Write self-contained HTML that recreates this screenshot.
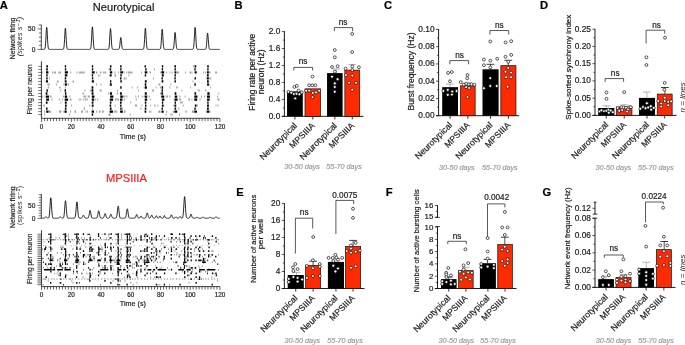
<!DOCTYPE html>
<html><head><meta charset="utf-8"><style>
html,body{margin:0;padding:0;background:#fff;width:685px;height:345px;overflow:hidden}
svg{display:block;filter:blur(0.25px)}
text{font-family:"Liberation Sans", sans-serif}
</style></head><body>
<svg xmlns="http://www.w3.org/2000/svg" width="685" height="345" viewBox="0 0 685 345">
<rect width="685" height="345" fill="#fff"/>
<g fill="#1c1c1c">
<text x="-0.3" y="8.6" font-size="11.2" font-weight="bold" fill="#000" stroke="#000" stroke-width="0.2">A</text>
<text x="234.6" y="8.6" font-size="11.2" font-weight="bold" fill="#000" stroke="#000" stroke-width="0.2">B</text>
<text x="384" y="8.6" font-size="11.2" font-weight="bold" fill="#000" stroke="#000" stroke-width="0.2">C</text>
<text x="540.1" y="8.6" font-size="11.2" font-weight="bold" fill="#000" stroke="#000" stroke-width="0.2">D</text>
<text x="236.3" y="196" font-size="11.2" font-weight="bold" fill="#000" stroke="#000" stroke-width="0.2">E</text>
<text x="385.8" y="196" font-size="11.2" font-weight="bold" fill="#000" stroke="#000" stroke-width="0.2">F</text>
<text x="542.4" y="196" font-size="11.2" font-weight="bold" fill="#000" stroke="#000" stroke-width="0.2">G</text>
<text x="92.8" y="11.1" font-size="11.1" fill="#1a1a1a" stroke="#1a1a1a" stroke-width="0.2">Neurotypical</text>
<text x="105.9" y="181.9" font-size="11.2" fill="#ff1a1a" stroke="#ff1a1a" stroke-width="0.2">MPSIIIA</text>
<line x1="41.3" y1="24.7" x2="41.3" y2="49.6" stroke="#111" stroke-width="0.8"/>
<path d="M37.5 49.4h3.8M38.7 45.31h2.6M38.7 41.22h2.6M38.7 37.13h2.6M38.7 33.04h2.6M37.5 28.95h3.8M38.7 24.86h2.6" stroke="#222" stroke-width="0.6" fill="none"/>
<text x="35.4" y="31.1" font-size="6.6" text-anchor="end" stroke="#1c1c1c" stroke-width="0.18">50</text>
<text x="35.4" y="51.9" font-size="6.6" text-anchor="end" stroke="#1c1c1c" stroke-width="0.18">0</text>
<path d="M41.3 49.4 L41.55 49.4 L41.8 49.4 L42.05 49.4 L42.3 49.4 L42.55 49.4 L42.8 49.4 L43.05 49.4 L43.3 49.4 L43.55 49.4 L43.8 49.4 L44.05 49.39 L44.3 49.36 L44.55 49.25 L44.8 48.95 L45.05 48.22 L45.3 46.71 L45.55 44.04 L45.8 40.07 L46.05 35.21 L46.3 30.56 L46.55 27.54 L46.8 27.24 L47.05 29.78 L47.3 34.22 L47.55 39.14 L47.8 43.35 L48.05 46.28 L48.3 47.99 L48.55 48.85 L48.8 49.21 L49.05 49.34 L49.3 49.39 L49.55 49.4 L49.8 49.4 L50.05 49.4 L50.3 49.4 L50.55 49.4 L50.8 49.4 L51.05 49.4 L51.3 49.4 L51.55 49.4 L51.8 49.4 L52.05 49.4 L52.3 49.4 L52.55 49.4 L52.8 49.4 L53.05 49.4 L53.3 49.4 L53.55 49.4 L53.8 49.4 L54.05 49.4 L54.3 49.4 L54.55 49.4 L54.8 49.4 L55.05 49.4 L55.3 49.4 L55.55 49.4 L55.8 49.4 L56.05 49.4 L56.3 49.4 L56.55 49.4 L56.8 49.4 L57.05 49.4 L57.3 49.4 L57.55 49.4 L57.8 49.4 L58.05 49.4 L58.3 49.4 L58.55 49.4 L58.8 49.4 L59.05 49.4 L59.3 49.4 L59.55 49.4 L59.8 49.4 L60.05 49.4 L60.3 49.4 L60.55 49.4 L60.8 49.4 L61.05 49.4 L61.3 49.4 L61.55 49.4 L61.8 49.4 L62.05 49.4 L62.3 49.4 L62.55 49.4 L62.8 49.39 L63.05 49.35 L63.3 49.22 L63.55 48.87 L63.8 48.06 L64.05 46.42 L64.3 43.62 L64.55 39.6 L64.8 34.9 L65.05 30.65 L65.3 28.23 L65.55 28.51 L65.8 31.4 L66.05 35.85 L66.3 40.49 L66.55 44.28 L66.8 46.83 L67.05 48.27 L67.3 48.97 L67.55 49.26 L67.8 49.36 L68.05 49.39 L68.3 49.4 L68.55 49.4 L68.8 49.4 L69.05 49.4 L69.3 49.4 L69.55 49.4 L69.8 49.4 L70.05 49.4 L70.3 49.4 L70.55 49.4 L70.8 49.4 L71.05 49.4 L71.3 49.4 L71.55 49.4 L71.8 49.4 L72.05 49.4 L72.3 49.4 L72.55 49.4 L72.8 49.4 L73.05 49.4 L73.3 49.4 L73.55 49.4 L73.8 49.4 L74.05 49.4 L74.3 49.4 L74.55 49.4 L74.8 49.4 L75.05 49.4 L75.3 49.4 L75.55 49.4 L75.8 49.4 L76.05 49.4 L76.3 49.4 L76.55 49.4 L76.8 49.4 L77.05 49.4 L77.3 49.4 L77.55 49.4 L77.8 49.4 L78.05 49.4 L78.3 49.4 L78.55 49.4 L78.8 49.4 L79.05 49.4 L79.3 49.4 L79.55 49.4 L79.8 49.4 L80.05 49.4 L80.3 49.4 L80.55 49.4 L80.8 49.4 L81.05 49.4 L81.3 49.4 L81.55 49.4 L81.8 49.4 L82.05 49.4 L82.3 49.4 L82.55 49.4 L82.8 49.4 L83.05 49.4 L83.3 49.4 L83.55 49.4 L83.8 49.4 L84.05 49.4 L84.3 49.4 L84.55 49.4 L84.8 49.4 L85.05 49.4 L85.3 49.4 L85.55 49.4 L85.8 49.4 L86.05 49.4 L86.3 49.4 L86.55 49.4 L86.8 49.4 L87.05 49.4 L87.3 49.4 L87.55 49.4 L87.8 49.4 L88.05 49.4 L88.3 49.4 L88.55 49.4 L88.8 49.4 L89.05 49.4 L89.3 49.4 L89.55 49.4 L89.8 49.38 L90.05 49.34 L90.3 49.21 L90.55 48.84 L90.8 47.97 L91.05 46.22 L91.3 43.24 L91.55 38.96 L91.8 33.95 L92.05 29.43 L92.3 26.85 L92.55 27.15 L92.8 30.22 L93.05 34.96 L93.3 39.9 L93.55 43.94 L93.8 46.66 L94.05 48.2 L94.3 48.94 L94.55 49.25 L94.8 49.36 L95.05 49.39 L95.3 49.4 L95.55 49.4 L95.8 49.4 L96.05 49.4 L96.3 49.4 L96.55 49.4 L96.8 49.4 L97.05 49.4 L97.3 49.4 L97.55 49.4 L97.8 49.4 L98.05 49.4 L98.3 49.4 L98.55 49.4 L98.8 49.4 L99.05 49.4 L99.3 49.4 L99.55 49.4 L99.8 49.4 L100.05 49.4 L100.3 49.4 L100.55 49.4 L100.8 49.4 L101.05 49.4 L101.3 49.4 L101.55 49.4 L101.8 49.4 L102.05 49.4 L102.3 49.4 L102.55 49.4 L102.8 49.4 L103.05 49.4 L103.3 49.4 L103.55 49.4 L103.8 49.4 L104.05 49.4 L104.3 49.4 L104.55 49.4 L104.8 49.4 L105.05 49.4 L105.3 49.4 L105.55 49.4 L105.8 49.4 L106.05 49.4 L106.3 49.4 L106.55 49.4 L106.8 49.4 L107.05 49.4 L107.3 49.4 L107.55 49.4 L107.8 49.39 L108.05 49.37 L108.3 49.29 L108.55 49.06 L108.8 48.48 L109.05 47.25 L109.3 45 L109.55 41.52 L109.8 37.1 L110.05 32.61 L110.3 29.38 L110.55 28.56 L110.8 30.44 L111.05 34.33 L111.3 38.94 L111.55 43.06 L111.8 46.04 L112.05 47.84 L112.3 48.77 L112.55 49.18 L112.8 49.33 L113.05 49.38 L113.3 49.4 L113.55 49.4 L113.8 49.4 L114.05 49.4 L114.3 49.4 L114.55 49.4 L114.8 49.4 L115.05 49.4 L115.3 49.4 L115.55 49.4 L115.8 49.4 L116.05 49.4 L116.3 49.4 L116.55 49.4 L116.8 49.4 L117.05 49.4 L117.3 49.4 L117.55 49.4 L117.8 49.4 L118.05 49.4 L118.3 49.39 L118.55 49.35 L118.8 49.24 L119.05 48.97 L119.3 48.36 L119.55 47.2 L119.8 45.36 L120.05 42.92 L120.3 40.32 L120.55 38.28 L120.8 37.5 L121.05 38.28 L121.3 40.32 L121.55 42.92 L121.8 45.36 L122.05 47.2 L122.3 48.36 L122.55 48.97 L122.8 49.24 L123.05 49.35 L123.3 49.39 L123.55 49.4 L123.8 49.4 L124.05 49.4 L124.3 49.4 L124.55 49.4 L124.8 49.4 L125.05 49.4 L125.3 49.4 L125.55 49.4 L125.8 49.4 L126.05 49.4 L126.3 49.4 L126.55 49.4 L126.8 49.4 L127.05 49.4 L127.3 49.4 L127.55 49.4 L127.8 49.4 L128.05 49.4 L128.3 49.4 L128.55 49.4 L128.8 49.4 L129.05 49.4 L129.3 49.4 L129.55 49.4 L129.8 49.4 L130.05 49.4 L130.3 49.4 L130.55 49.4 L130.8 49.4 L131.05 49.4 L131.3 49.4 L131.55 49.4 L131.8 49.4 L132.05 49.4 L132.3 49.4 L132.55 49.4 L132.8 49.4 L133.05 49.4 L133.3 49.4 L133.55 49.4 L133.8 49.4 L134.05 49.4 L134.3 49.4 L134.55 49.4 L134.8 49.4 L135.05 49.4 L135.3 49.4 L135.55 49.4 L135.8 49.4 L136.05 49.4 L136.3 49.4 L136.55 49.4 L136.8 49.4 L137.05 49.4 L137.3 49.4 L137.55 49.4 L137.8 49.4 L138.05 49.4 L138.3 49.4 L138.55 49.4 L138.8 49.4 L139.05 49.4 L139.3 49.4 L139.55 49.4 L139.8 49.4 L140.05 49.4 L140.3 49.4 L140.55 49.4 L140.8 49.4 L141.05 49.4 L141.3 49.4 L141.55 49.4 L141.8 49.4 L142.05 49.4 L142.3 49.4 L142.55 49.4 L142.8 49.39 L143.05 49.35 L143.3 49.22 L143.55 48.87 L143.8 48.06 L144.05 46.42 L144.3 43.62 L144.55 39.6 L144.8 34.9 L145.05 30.65 L145.3 28.23 L145.55 28.51 L145.8 31.4 L146.05 35.85 L146.3 40.49 L146.55 44.28 L146.8 46.83 L147.05 48.27 L147.3 48.97 L147.55 49.26 L147.8 49.36 L148.05 49.39 L148.3 49.4 L148.55 49.4 L148.8 49.4 L149.05 49.4 L149.3 49.4 L149.55 49.4 L149.8 49.4 L150.05 49.4 L150.3 49.4 L150.55 49.4 L150.8 49.4 L151.05 49.4 L151.3 49.4 L151.55 49.4 L151.8 49.4 L152.05 49.4 L152.3 49.4 L152.55 49.4 L152.8 49.4 L153.05 49.4 L153.3 49.4 L153.55 49.4 L153.8 49.4 L154.05 49.4 L154.3 49.4 L154.55 49.4 L154.8 49.4 L155.05 49.4 L155.3 49.4 L155.55 49.4 L155.8 49.4 L156.05 49.4 L156.3 49.4 L156.55 49.4 L156.8 49.4 L157.05 49.4 L157.3 49.4 L157.55 49.4 L157.8 49.4 L158.05 49.4 L158.3 49.4 L158.55 49.4 L158.8 49.4 L159.05 49.4 L159.3 49.4 L159.55 49.39 L159.8 49.36 L160.05 49.26 L160.3 48.99 L160.55 48.33 L160.8 46.95 L161.05 44.52 L161.3 40.9 L161.55 36.48 L161.8 32.24 L162.05 29.49 L162.3 29.22 L162.55 31.53 L162.8 35.58 L163.05 40.06 L163.3 43.89 L163.55 46.56 L163.8 48.12 L164.05 48.9 L164.3 49.23 L164.55 49.35 L164.8 49.39 L165.05 49.4 L165.3 49.4 L165.55 49.4 L165.8 49.4 L166.05 49.4 L166.3 49.4 L166.55 49.4 L166.8 49.4 L167.05 49.4 L167.3 49.4 L167.55 49.4 L167.8 49.4 L168.05 49.4 L168.3 49.4 L168.55 49.4 L168.8 49.4 L169.05 49.4 L169.3 49.4 L169.55 49.4 L169.8 49.4 L170.05 49.4 L170.3 49.4 L170.55 49.4 L170.8 49.4 L171.05 49.4 L171.3 49.4 L171.55 49.4 L171.8 49.4 L172.05 49.4 L172.3 49.4 L172.55 49.38 L172.8 49.34 L173.05 49.22 L173.3 48.89 L173.55 48.13 L173.8 46.67 L174.05 44.24 L174.3 40.89 L174.55 37.14 L174.8 33.98 L175.05 32.45 L175.3 33.12 L175.55 35.74 L175.8 39.39 L176.05 42.99 L176.3 45.82 L176.55 47.65 L176.8 48.65 L177.05 49.12 L177.3 49.31 L177.55 49.37 L177.8 49.39 L178.05 49.4 L178.3 49.4 L178.55 49.4 L178.8 49.4 L179.05 49.4 L179.3 49.4 L179.55 49.4 L179.8 49.4 L180.05 49.4 L180.3 49.4 L180.55 49.4 L180.8 49.4 L181.05 49.4 L181.3 49.4 L181.55 49.4 L181.8 49.4 L182.05 49.4 L182.3 49.4 L182.55 49.4 L182.8 49.4 L183.05 49.4 L183.3 49.4 L183.55 49.4 L183.8 49.4 L184.05 49.4 L184.3 49.4 L184.55 49.4 L184.8 49.4 L185.05 49.4 L185.3 49.4 L185.55 49.4 L185.8 49.4 L186.05 49.4 L186.3 49.4 L186.55 49.4 L186.8 49.4 L187.05 49.4 L187.3 49.4 L187.55 49.4 L187.8 49.4 L188.05 49.4 L188.3 49.4 L188.55 49.4 L188.8 49.4 L189.05 49.4 L189.3 49.4 L189.55 49.4 L189.8 49.4 L190.05 49.4 L190.3 49.4 L190.55 49.4 L190.8 49.4 L191.05 49.4 L191.3 49.4 L191.55 49.4 L191.8 49.4 L192.05 49.4 L192.3 49.4 L192.55 49.38 L192.8 49.33 L193.05 49.17 L193.3 48.73 L193.55 47.76 L193.8 45.85 L194.05 42.69 L194.3 38.34 L194.55 33.47 L194.8 29.35 L195.05 27.36 L195.3 28.24 L195.55 31.65 L195.8 36.39 L196.05 41.07 L196.3 44.74 L196.55 47.12 L196.8 48.43 L197.05 49.04 L197.3 49.28 L197.55 49.37 L197.8 49.39 L198.05 49.4 L198.3 49.4 L198.55 49.4 L198.8 49.4 L199.05 49.4 L199.3 49.4 L199.55 49.4 L199.8 49.4 L200.05 49.4 L200.3 49.4 L200.55 49.4 L200.8 49.4 L201.05 49.4 L201.3 49.4 L201.55 49.4 L201.8 49.4 L202.05 49.4 L202.3 49.4 L202.55 49.4 L202.8 49.4 L203.05 49.4 L203.3 49.4 L203.55 49.4 L203.8 49.4 L204.05 49.4 L204.3 49.4 L204.55 49.4 L204.8 49.4 L205.05 49.39 L205.3 49.35 L205.55 49.23 L205.8 48.91 L206.05 48.19 L206.3 46.78 L206.55 44.45 L206.8 41.24 L207.05 37.65 L207.3 34.61 L207.55 33.14 L207.8 33.79 L208.05 36.31 L208.3 39.8 L208.55 43.26 L208.8 45.96 L209.05 47.72 L209.3 48.68 L209.55 49.13 L209.8 49.31 L210.05 49.38 L210.3 49.39 L210.55 49.4 L210.8 49.4 L211.05 49.4 L211.3 49.4 L211.55 49.4 L211.8 49.4 L212.05 49.4 L212.3 49.4 L212.55 49.4 L212.8 49.4 L213.05 49.4 L213.3 49.4 L213.55 49.4 L213.8 49.4 L214.05 49.4 L214.3 49.4 L214.55 49.4 L214.8 49.4 L215.05 49.4 L215.3 49.4 L215.55 49.4 L215.8 49.4 L216.05 49.4 L216.3 49.4 L216.55 49.4 L216.8 49.4 L217.05 49.4 L217.3 49.4 L217.55 49.4 L217.8 49.4 L218.05 49.4 L218.3 49.4 L218.55 49.4 L218.8 49.4 L219.05 49.4 L219.3 49.4 L219.55 49.4 L219.8 49.4" stroke="#000" stroke-width="0.85" fill="none"/>
<text x="15" y="38.5" font-size="6.8" text-anchor="middle" stroke="#1c1c1c" stroke-width="0.18" transform="rotate(-90 15 38.5)">Network firing</text>
<text x="22.4" y="36.6" font-size="7" text-anchor="middle" font-style="italic" textLength="39.5" transform="rotate(-90 22.4 36.6)">(spikes s<tspan font-size="5.6" dy="-2.6">−1</tspan><tspan dy="2.6">)</tspan></text>
<path d="M192.95 65.35h0.9v2.1h-0.9zM108.63 68.36h0.9v2.1h-0.9zM153.89 68.36h0.9v2.1h-0.9zM70.2 71.38h1v2.1h-1zM96.4 71.38h1v2.1h-1zM114.53 71.38h1v2.1h-1zM126.33 71.38h1v2.1h-1zM149.54 71.38h1v2.1h-1zM166.16 71.38h1v2.1h-1zM177.9 71.38h1v2.1h-1zM41.78 71.38h0.9v2.1h-0.9zM46.78 71.38h0.9v2.1h-0.9zM52.06 71.38h0.9v2.1h-0.9zM53.74 71.38h1.66v2.1h-1.66zM53.95 71.38h1.15v2.1h-1.15zM54.54 71.38h0.9v2.1h-0.9zM54.72 71.38h1.08v2.1h-1.08zM55.07 71.38h0.9v2.1h-0.9zM55.16 71.38h0.9v2.1h-0.9zM58.3 71.38h1.2v2.1h-1.2zM59.71 71.38h0.9v2.1h-0.9zM60.14 71.38h0.9v2.1h-0.9zM76.57 71.38h0.9v2.1h-0.9zM78.76 71.38h1.02v2.1h-1.02zM80.14 71.38h1.89v2.1h-1.89zM80.72 71.38h2.04v2.1h-2.04zM83.2 71.38h1.55v2.1h-1.55zM83.3 71.38h0.9v2.1h-0.9zM95.97 71.38h0.9v2.1h-0.9zM99.91 71.38h1.34v2.1h-1.34zM100.51 71.38h0.9v2.1h-0.9zM103.02 71.38h0.9v2.1h-0.9zM104.34 71.38h1.87v2.1h-1.87zM118.19 71.38h0.9v2.1h-0.9zM123.61 71.38h0.9v2.1h-0.9zM128.06 71.38h1.52v2.1h-1.52zM129.51 71.38h0.93v2.1h-0.93zM130.59 71.38h1.73v2.1h-1.73zM140.94 71.38h0.9v2.1h-0.9zM150.07 71.38h0.9v2.1h-0.9zM160.31 71.38h0.9v2.1h-0.9zM161.13 71.38h1.14v2.1h-1.14zM161.89 71.38h0.9v2.1h-0.9zM169.5 71.38h0.9v2.1h-0.9zM171.66 71.38h0.9v2.1h-0.9zM176.96 71.38h1.69v2.1h-1.69zM184.91 71.38h0.9v2.1h-0.9zM189.49 71.38h0.9v2.1h-0.9zM190.14 71.38h0.9v2.1h-0.9zM191.47 71.38h0.9v2.1h-0.9zM203.24 71.38h0.9v2.1h-0.9zM204.93 71.38h0.9v2.1h-0.9zM209.19 71.38h1.05v2.1h-1.05zM209.73 71.38h0.9v2.1h-0.9zM215.15 71.38h1.89v2.1h-1.89zM97.98 74.39h0.9v2.1h-0.9zM99.38 74.39h0.9v2.1h-0.9zM114.41 74.39h1.86v2.1h-1.86zM128.46 74.39h0.9v2.1h-0.9zM49.04 77.4h0.9v2.1h-0.9zM120.1 77.4h0.9v2.1h-0.9zM123.75 77.4h1.43v2.1h-1.43zM125.62 77.4h0.99v2.1h-0.99zM153.03 77.4h0.9v2.1h-0.9zM209.33 77.4h1.76v2.1h-1.76zM56.89 80.42h1.83v2.1h-1.83zM72.5 80.42h1.41v2.1h-1.41zM192.55 80.42h0.9v2.1h-0.9zM207.37 80.42h2v2.1h-2zM47.38 83.43h1.09v2.1h-1.09zM48.48 83.43h1.27v2.1h-1.27zM56.2 83.43h0.9v2.1h-0.9zM63.47 83.43h0.9v2.1h-0.9zM67.63 83.43h0.9v2.1h-0.9zM68.02 83.43h0.92v2.1h-0.92zM96.05 83.43h0.9v2.1h-0.9zM100.51 83.43h0.9v2.1h-0.9zM158.41 83.43h1.88v2.1h-1.88zM170.43 83.43h0.9v2.1h-0.9zM208.62 83.43h0.9v2.1h-0.9zM47.75 86.44h1.25v2.1h-1.25zM59.18 86.44h1.43v2.1h-1.43zM64.85 86.44h0.9v2.1h-0.9zM131.68 86.44h0.9v2.1h-0.9zM136.88 86.44h0.9v2.1h-0.9zM143.76 86.44h0.9v2.1h-0.9zM143.78 86.44h0.9v2.1h-0.9zM155.74 86.44h0.9v2.1h-0.9zM159.9 86.44h0.9v2.1h-0.9zM160 86.44h1.01v2.1h-1.01zM169.47 86.44h0.93v2.1h-0.93zM176.21 86.44h1.6v2.1h-1.6zM190.2 86.44h0.9v2.1h-0.9zM210.1 86.44h0.9v2.1h-0.9zM60.22 89.45h0.9v2.1h-0.9zM84.6 89.45h0.9v2.1h-0.9zM90.14 89.45h1.06v2.1h-1.06zM99.64 89.45h1.9v2.1h-1.9zM117 89.45h0.9v2.1h-0.9zM137.89 89.45h0.9v2.1h-0.9zM152.15 89.45h1.86v2.1h-1.86zM181.43 89.45h0.9v2.1h-0.9zM197.69 89.45h0.9v2.1h-0.9zM199.14 89.45h0.9v2.1h-0.9zM205.31 89.45h1.22v2.1h-1.22zM82.5 92.47h1.45v2.1h-1.45zM107.97 92.47h0.9v2.1h-0.9zM116.84 92.47h1.15v2.1h-1.15zM160.1 92.47h1.6v2.1h-1.6zM162.37 92.47h0.9v2.1h-0.9zM207.72 92.47h1.88v2.1h-1.88zM218.28 92.47h0.9v2.1h-0.9zM50.47 95.48h1v2.1h-1zM69.3 95.48h1v2.1h-1zM126.34 95.48h1v2.1h-1zM148.85 95.48h1v2.1h-1zM179.48 95.48h1v2.1h-1zM41.85 95.48h0.9v2.1h-0.9zM44.82 95.48h0.9v2.1h-0.9zM49.94 95.48h0.96v2.1h-0.96zM62.89 95.48h1.47v2.1h-1.47zM64.98 95.48h1.79v2.1h-1.79zM83.51 95.48h1.69v2.1h-1.69zM85.28 95.48h0.9v2.1h-0.9zM87.77 95.48h1.09v2.1h-1.09zM88.92 95.48h0.9v2.1h-0.9zM92.32 95.48h1.99v2.1h-1.99zM120.3 95.48h0.9v2.1h-0.9zM121.04 95.48h1.01v2.1h-1.01zM123.11 95.48h1.19v2.1h-1.19zM124.59 95.48h0.9v2.1h-0.9zM135.4 95.48h0.9v2.1h-0.9zM138.04 95.48h0.9v2.1h-0.9zM141.72 95.48h0.9v2.1h-0.9zM143.76 95.48h1.23v2.1h-1.23zM160.76 95.48h1.5v2.1h-1.5zM165.68 95.48h0.9v2.1h-0.9zM166.89 95.48h1.2v2.1h-1.2zM169.42 95.48h0.9v2.1h-0.9zM184.66 95.48h0.9v2.1h-0.9zM194.88 95.48h0.94v2.1h-0.94zM201 95.48h0.9v2.1h-0.9zM204.17 95.48h0.9v2.1h-0.9zM204.17 95.48h0.9v2.1h-0.9zM217.13 95.48h0.9v2.1h-0.9zM51.52 98.49h1v2.1h-1zM97.23 98.49h1v2.1h-1zM114.86 98.49h1v2.1h-1zM124.06 98.49h1v2.1h-1zM149.88 98.49h1v2.1h-1zM179.52 98.49h1v2.1h-1zM199.58 98.49h1v2.1h-1zM59.11 98.49h0.94v2.1h-0.94zM61.9 98.49h0.9v2.1h-0.9zM69.64 98.49h1.86v2.1h-1.86zM78.72 98.49h0.9v2.1h-0.9zM80.27 98.49h0.9v2.1h-0.9zM82.79 98.49h0.9v2.1h-0.9zM84.57 98.49h1.81v2.1h-1.81zM86.93 98.49h0.9v2.1h-0.9zM91.55 98.49h1.17v2.1h-1.17zM95.2 98.49h0.9v2.1h-0.9zM115.26 98.49h1.37v2.1h-1.37zM116.88 98.49h0.9v2.1h-0.9zM117.91 98.49h0.97v2.1h-0.97zM121.29 98.49h0.9v2.1h-0.9zM135.81 98.49h0.9v2.1h-0.9zM176.36 98.49h0.9v2.1h-0.9zM179.06 98.49h2.02v2.1h-2.02zM188.32 98.49h1.7v2.1h-1.7zM191.53 98.49h0.9v2.1h-0.9zM194.26 98.49h0.9v2.1h-0.9zM196.47 98.49h0.9v2.1h-0.9zM217.49 98.49h2.06v2.1h-2.06zM60.45 101.51h0.9v2.1h-0.9zM130.24 101.51h0.9v2.1h-0.9zM180.02 101.51h0.9v2.1h-0.9zM181.23 101.51h1.47v2.1h-1.47zM43.23 104.52h1.5v2.1h-1.5zM66.21 104.52h0.9v2.1h-0.9zM71.16 104.52h0.9v2.1h-0.9zM89.15 104.52h0.9v2.1h-0.9zM114.75 104.52h0.9v2.1h-0.9zM135.03 104.52h1.91v2.1h-1.91zM141.49 104.52h0.9v2.1h-0.9zM150.16 104.52h0.9v2.1h-0.9zM154.28 104.52h1.19v2.1h-1.19zM157.37 104.52h0.9v2.1h-0.9zM173.41 104.52h0.9v2.1h-0.9zM182.78 104.52h0.9v2.1h-0.9zM195.92 104.52h1.87v2.1h-1.87zM215.6 104.52h0.9v2.1h-0.9zM217.6 104.52h0.9v2.1h-0.9zM83.73 107.53h1.27v2.1h-1.27zM92.18 107.53h0.9v2.1h-0.9zM121.68 107.53h1.02v2.1h-1.02zM140.36 107.53h0.9v2.1h-0.9zM178.23 107.53h1.1v2.1h-1.1zM69.93 110.55h1v2.1h-1zM116.21 110.55h1v2.1h-1zM124.25 110.55h1v2.1h-1zM149.03 110.55h1v2.1h-1zM166.22 110.55h1v2.1h-1zM43.88 110.55h0.9v2.1h-0.9zM48.38 110.55h0.9v2.1h-0.9zM49.19 110.55h0.9v2.1h-0.9zM50.35 110.55h0.9v2.1h-0.9zM59.05 110.55h0.9v2.1h-0.9zM59.99 110.55h1.38v2.1h-1.38zM63.38 110.55h0.9v2.1h-0.9zM63.99 110.55h1.77v2.1h-1.77zM74.55 110.55h1.57v2.1h-1.57zM81.13 110.55h1.91v2.1h-1.91zM81.71 110.55h0.9v2.1h-0.9zM85.42 110.55h0.9v2.1h-0.9zM87.12 110.55h0.9v2.1h-0.9zM91.18 110.55h0.9v2.1h-0.9zM96.17 110.55h0.9v2.1h-0.9zM98.85 110.55h1.64v2.1h-1.64zM101.97 110.55h1.82v2.1h-1.82zM109 110.55h0.9v2.1h-0.9zM109.92 110.55h0.9v2.1h-0.9zM110.44 110.55h1.42v2.1h-1.42zM110.89 110.55h0.9v2.1h-0.9zM114.2 110.55h1.66v2.1h-1.66zM114.6 110.55h0.9v2.1h-0.9zM121.58 110.55h0.9v2.1h-0.9zM121.84 110.55h0.9v2.1h-0.9zM124.05 110.55h0.9v2.1h-0.9zM124.73 110.55h0.9v2.1h-0.9zM150.51 110.55h0.9v2.1h-0.9zM158.34 110.55h2.08v2.1h-2.08zM161.49 110.55h0.9v2.1h-0.9zM172.99 110.55h1.85v2.1h-1.85zM185.38 110.55h1.32v2.1h-1.32zM191.93 110.55h1.98v2.1h-1.98zM193.42 110.55h0.9v2.1h-0.9zM194.14 110.55h0.9v2.1h-0.9zM205.87 110.55h1.22v2.1h-1.22zM209.14 110.55h0.9v2.1h-0.9zM209.32 110.55h1.09v2.1h-1.09zM44.34 113.56h0.9v2.1h-0.9zM68.94 113.56h0.9v2.1h-0.9zM108.51 113.56h2.09v2.1h-2.09zM129.84 113.56h0.9v2.1h-0.9zM165.66 113.56h0.9v2.1h-0.9zM170.48 113.56h0.9v2.1h-0.9zM171.71 113.56h0.9v2.1h-0.9zM178.95 113.56h0.9v2.1h-0.9z" fill="#a0a0a0"/>
<path d="M46.28 65.25h1.74v2.3h-1.74zM64.77 65.25h1.4v2.3h-1.4zM91.8 65.25h1.4v2.3h-1.4zM109.93 65.25h1.56v2.3h-1.56zM120.13 65.25h1.5v2.3h-1.5zM144.54 65.25h1.4v2.3h-1.4zM161.85 65.25h1.4v2.3h-1.4zM174.4 65.25h1.61v2.3h-1.61zM194.59 65.25h1.65v2.3h-1.65zM207.18 65.25h1.62v2.3h-1.62zM46.14 68.26h1.65v2.3h-1.65zM64.86 68.26h1.4v2.3h-1.4zM91.84 68.26h1.4v2.3h-1.4zM109.79 68.26h1.4v2.3h-1.4zM120.15 68.26h1.4v2.3h-1.4zM145.21 68.26h1.4v2.3h-1.4zM161.72 68.26h1.4v2.3h-1.4zM174.5 68.26h1.4v2.3h-1.4zM194.31 68.26h1.45v2.3h-1.45zM207.21 68.26h1.4v2.3h-1.4zM46.05 71.28h2.33v2.3h-2.33zM64.79 71.28h3.14v2.3h-3.14zM91.82 71.28h2.84v2.3h-2.84zM109.82 71.28h2.42v2.3h-2.42zM120.28 71.28h2.78v2.3h-2.78zM144.71 71.28h2.61v2.3h-2.61zM161.58 71.28h2.62v2.3h-2.62zM174.52 71.28h1.87v2.3h-1.87zM194.64 71.28h2.05v2.3h-2.05zM206.98 71.28h1.85v2.3h-1.85zM46.25 74.29h1.4v2.3h-1.4zM64.84 74.29h2.46v2.3h-2.46zM91.74 74.29h1.4v2.3h-1.4zM109.7 74.29h1.92v2.3h-1.92zM120.32 74.29h1.4v2.3h-1.4zM144.74 74.29h1.4v2.3h-1.4zM161.84 74.29h2v2.3h-2zM174.55 74.29h1.4v2.3h-1.4zM206.91 74.29h1.81v2.3h-1.81zM46.26 77.3h1.4v2.3h-1.4zM64.73 77.3h1.44v2.3h-1.44zM91.92 77.3h1.4v2.3h-1.4zM120.1 77.3h1.4v2.3h-1.4zM161.48 77.3h1.4v2.3h-1.4zM174.35 77.3h1.4v2.3h-1.4zM194.55 77.3h1.4v2.3h-1.4zM206.75 77.3h2.08v2.3h-2.08zM45.84 80.31h2.18v2.3h-2.18zM64.76 80.31h1.79v2.3h-1.79zM91.78 80.31h2.15v2.3h-2.15zM109.98 80.31h1.4v2.3h-1.4zM120.32 80.31h1.52v2.3h-1.52zM144.82 80.31h1.9v2.3h-1.9zM161.62 80.31h1.76v2.3h-1.76zM174.5 80.31h1.4v2.3h-1.4zM206.99 80.31h1.59v2.3h-1.59zM64.88 83.33h1.97v2.3h-1.97zM109.82 83.33h1.93v2.3h-1.93zM144.76 83.33h1.49v2.3h-1.49zM194.39 83.33h1.4v2.3h-1.4zM207.13 83.33h1.74v2.3h-1.74zM91.6 86.34h1.71v2.3h-1.71zM120.24 86.34h1.4v2.3h-1.4zM144.91 86.34h1.99v2.3h-1.99zM161.65 86.34h1.49v2.3h-1.49zM46.49 89.35h1.4v2.3h-1.4zM64.59 89.35h1.4v2.3h-1.4zM91.53 89.35h1.83v2.3h-1.83zM161.57 89.35h1.4v2.3h-1.4zM45.69 92.37h1.73v2.3h-1.73zM64.92 92.37h1.46v2.3h-1.46zM91.59 92.37h1.86v2.3h-1.86zM109.94 92.37h2v2.3h-2zM120.07 92.37h1.79v2.3h-1.79zM144.8 92.37h1.94v2.3h-1.94zM161.4 92.37h1.51v2.3h-1.51zM174.67 92.37h1.68v2.3h-1.68zM194.52 92.37h1.6v2.3h-1.6zM207.39 92.37h2.15v2.3h-2.15zM46 95.38h2.97v2.3h-2.97zM64.84 95.38h2.28v2.3h-2.28zM91.79 95.38h2.61v2.3h-2.61zM110.13 95.38h3.27v2.3h-3.27zM120.34 95.38h2.5v2.3h-2.5zM144.92 95.38h2.33v2.3h-2.33zM161.49 95.38h2.77v2.3h-2.77zM174.68 95.38h2.55v2.3h-2.55zM194.32 95.38h3.15v2.3h-3.15zM206.93 95.38h3.07v2.3h-3.07zM46.17 98.39h2.8v2.3h-2.8zM64.71 98.39h3.4v2.3h-3.4zM91.85 98.39h2.31v2.3h-2.31zM109.8 98.39h3.3v2.3h-3.3zM120.02 98.39h2.39v2.3h-2.39zM144.73 98.39h2.46v2.3h-2.46zM161.76 98.39h2.66v2.3h-2.66zM174.39 98.39h3.14v2.3h-3.14zM194.38 98.39h2.7v2.3h-2.7zM207.06 98.39h2.53v2.3h-2.53zM45.85 101.41h1.72v2.3h-1.72zM64.85 101.41h1.83v2.3h-1.83zM91.75 101.41h1.63v2.3h-1.63zM109.88 101.41h1.48v2.3h-1.48zM119.96 101.41h1.66v2.3h-1.66zM144.81 101.41h1.54v2.3h-1.54zM161.85 101.41h1.4v2.3h-1.4zM174.6 101.41h1.4v2.3h-1.4zM207.24 101.41h1.4v2.3h-1.4zM64.96 104.42h1.6v2.3h-1.6zM91.76 104.42h1.83v2.3h-1.83zM109.62 104.42h1.55v2.3h-1.55zM120.12 104.42h1.4v2.3h-1.4zM145 104.42h1.4v2.3h-1.4zM161.84 104.42h1.82v2.3h-1.82zM174.52 104.42h1.7v2.3h-1.7zM194.87 104.42h1.4v2.3h-1.4zM206.99 104.42h1.91v2.3h-1.91zM46.08 107.43h1.5v2.3h-1.5zM64.87 107.43h1.59v2.3h-1.59zM109.84 107.43h1.75v2.3h-1.75zM120.24 107.43h1.4v2.3h-1.4zM144.78 107.43h1.58v2.3h-1.58zM161.53 107.43h1.4v2.3h-1.4zM174.58 107.43h1.57v2.3h-1.57zM194.37 107.43h1.4v2.3h-1.4zM207.01 107.43h1.76v2.3h-1.76zM46.23 110.44h2.23v2.3h-2.23zM64.74 110.44h1.96v2.3h-1.96zM91.88 110.44h2.13v2.3h-2.13zM109.91 110.44h3.16v2.3h-3.16zM120.09 110.44h2.63v2.3h-2.63zM144.55 110.44h1.74v2.3h-1.74zM161.6 110.44h2.08v2.3h-2.08zM174.61 110.44h2.66v2.3h-2.66zM194.57 110.44h2.37v2.3h-2.37zM207.01 110.44h2.17v2.3h-2.17zM91.73 113.46h1.44v2.3h-1.44z" fill="#000"/>
<line x1="41.4" y1="61.3" x2="41.4" y2="118.3" stroke="#111" stroke-width="0.85"/>
<path d="M38.2 66.4h3.3M38.2 69.41h3.3M38.2 72.43h3.3M38.2 75.44h3.3M38.2 78.45h3.3M38.2 81.47h3.3M38.2 84.48h3.3M38.2 87.49h3.3M38.2 90.5h3.3M38.2 93.52h3.3M38.2 96.53h3.3M38.2 99.54h3.3M38.2 102.56h3.3M38.2 105.57h3.3M38.2 108.58h3.3M38.2 111.59h3.3M38.2 114.61h3.3" stroke="#222" stroke-width="0.6" fill="none"/>
<line x1="41.5" y1="118.3" x2="219.9" y2="118.3" stroke="#111" stroke-width="0.8"/>
<path d="M41.6 118.3v3.6M44.57 118.3v2.8M47.54 118.3v2.8M50.52 118.3v2.8M53.49 118.3v2.8M56.46 118.3v2.8M59.43 118.3v2.8M62.4 118.3v2.8M65.37 118.3v2.8M68.34 118.3v2.8M71.32 118.3v3.6M74.29 118.3v2.8M77.26 118.3v2.8M80.23 118.3v2.8M83.2 118.3v2.8M86.18 118.3v2.8M89.15 118.3v2.8M92.12 118.3v2.8M95.09 118.3v2.8M98.06 118.3v2.8M101.03 118.3v3.6M104 118.3v2.8M106.98 118.3v2.8M109.95 118.3v2.8M112.92 118.3v2.8M115.89 118.3v2.8M118.86 118.3v2.8M121.84 118.3v2.8M124.81 118.3v2.8M127.78 118.3v2.8M130.75 118.3v3.6M133.72 118.3v2.8M136.69 118.3v2.8M139.67 118.3v2.8M142.64 118.3v2.8M145.61 118.3v2.8M148.58 118.3v2.8M151.55 118.3v2.8M154.52 118.3v2.8M157.5 118.3v2.8M160.47 118.3v3.6M163.44 118.3v2.8M166.41 118.3v2.8M169.38 118.3v2.8M172.35 118.3v2.8M175.33 118.3v2.8M178.3 118.3v2.8M181.27 118.3v2.8M184.24 118.3v2.8M187.21 118.3v2.8M190.18 118.3v3.6M193.16 118.3v2.8M196.13 118.3v2.8M199.1 118.3v2.8M202.07 118.3v2.8M205.04 118.3v2.8M208.01 118.3v2.8M210.99 118.3v2.8M213.96 118.3v2.8M216.93 118.3v2.8M219.9 118.3v3.6" stroke="#111" stroke-width="0.65" fill="none"/>
<text x="41.6" y="128.5" font-size="6.3" text-anchor="middle" stroke="#1c1c1c" stroke-width="0.18">0</text>
<text x="71.32" y="128.5" font-size="6.3" text-anchor="middle" stroke="#1c1c1c" stroke-width="0.18">20</text>
<text x="101.03" y="128.5" font-size="6.3" text-anchor="middle" stroke="#1c1c1c" stroke-width="0.18">40</text>
<text x="130.75" y="128.5" font-size="6.3" text-anchor="middle" stroke="#1c1c1c" stroke-width="0.18">60</text>
<text x="160.47" y="128.5" font-size="6.3" text-anchor="middle" stroke="#1c1c1c" stroke-width="0.18">80</text>
<text x="190.18" y="128.5" font-size="6.3" text-anchor="middle" stroke="#1c1c1c" stroke-width="0.18">100</text>
<text x="219.9" y="128.5" font-size="6.3" text-anchor="middle" stroke="#1c1c1c" stroke-width="0.18">120</text>
<text x="132.9" y="138.5" font-size="7.2" text-anchor="middle" stroke="#1c1c1c" stroke-width="0.18">Time (s)</text>
<text x="32" y="89.4" font-size="6.6" text-anchor="middle" stroke="#1c1c1c" stroke-width="0.18" transform="rotate(-90 32 89.4)">Firing per neuron</text>
<line x1="41.3" y1="194" x2="41.3" y2="218.6" stroke="#111" stroke-width="0.8"/>
<path d="M37.5 218.4h3.8M38.7 215.78h2.6M38.7 213.16h2.6M38.7 210.54h2.6M38.7 207.92h2.6M37.5 205.3h3.8M38.7 202.68h2.6M38.7 200.06h2.6M38.7 197.44h2.6M38.7 194.82h2.6" stroke="#222" stroke-width="0.6" fill="none"/>
<text x="35.4" y="207.8" font-size="6.6" text-anchor="end" stroke="#1c1c1c" stroke-width="0.18">50</text>
<text x="35.4" y="221" font-size="6.6" text-anchor="end" stroke="#1c1c1c" stroke-width="0.18">0</text>
<path d="M41.3 218.2 L41.55 218.2 L41.8 218.2 L42.05 218.2 L42.3 218.2 L42.55 218.2 L42.8 218.2 L43.05 218.19 L43.3 218.19 L43.55 218.17 L43.8 218.13 L44.05 218.08 L44.3 217.98 L44.55 217.84 L44.8 217.67 L45.05 217.46 L45.3 217.24 L45.55 217.05 L45.8 216.93 L46.05 216.9 L46.3 216.97 L46.55 217.12 L46.8 217.32 L47.05 217.54 L47.3 217.74 L47.55 217.9 L47.8 218.02 L48.05 218.08 L48.3 218.07 L48.55 217.95 L48.8 217.61 L49.05 216.85 L49.3 215.44 L49.55 213.11 L49.8 209.81 L50.05 205.83 L50.3 201.86 L50.55 198.9 L50.8 197.8 L51.05 198.9 L51.3 201.86 L51.55 205.83 L51.8 209.81 L52.05 213.11 L52.3 215.44 L52.55 216.86 L52.8 217.62 L53.05 217.97 L53.3 218.12 L53.55 218.18 L53.8 218.19 L54.05 218.2 L54.3 218.2 L54.55 218.2 L54.8 218.2 L55.05 218.2 L55.3 218.2 L55.55 218.2 L55.8 218.2 L56.05 218.2 L56.3 218.2 L56.55 218.2 L56.8 218.2 L57.05 218.2 L57.3 218.19 L57.55 218.18 L57.8 218.16 L58.05 218.13 L58.3 218.06 L58.55 217.96 L58.8 217.81 L59.05 217.63 L59.3 217.41 L59.55 217.2 L59.8 217.02 L60.05 216.92 L60.3 216.91 L60.55 216.99 L60.8 217.16 L61.05 217.37 L61.3 217.58 L61.55 217.78 L61.8 217.93 L62.05 218.04 L62.3 218.11 L62.55 218.15 L62.8 218.15 L63.05 218.11 L63.3 217.96 L63.55 217.6 L63.8 216.86 L64.05 215.5 L64.3 213.33 L64.55 210.35 L64.8 206.88 L65.05 203.58 L65.3 201.31 L65.55 200.74 L65.8 202.05 L66.05 204.83 L66.3 208.29 L66.55 211.63 L66.8 214.3 L67.05 216.13 L67.3 217.22 L67.55 217.78 L67.8 218.04 L68.05 218.15 L68.3 218.18 L68.55 218.2 L68.8 218.2 L69.05 218.2 L69.3 218.2 L69.55 218.2 L69.8 218.2 L70.05 218.2 L70.3 218.2 L70.55 218.2 L70.8 218.2 L71.05 218.2 L71.3 218.2 L71.55 218.2 L71.8 218.2 L72.05 218.2 L72.3 218.2 L72.55 218.2 L72.8 218.2 L73.05 218.2 L73.3 218.2 L73.55 218.2 L73.8 218.2 L74.05 218.19 L74.3 218.16 L74.55 218.08 L74.8 217.87 L75.05 217.42 L75.3 216.52 L75.55 214.95 L75.8 212.61 L76.05 209.57 L76.3 206.29 L76.55 203.49 L76.8 201.95 L77.05 202.12 L77.3 203.97 L77.55 206.93 L77.8 210.22 L78.05 213.14 L78.3 215.33 L78.55 216.74 L78.8 217.54 L79.05 217.93 L79.3 218.1 L79.55 218.17 L79.8 218.19 L80.05 218.2 L80.3 218.2 L80.55 218.19 L80.8 218.18 L81.05 218.16 L81.3 218.1 L81.55 217.99 L81.8 217.79 L82.05 217.48 L82.3 217.03 L82.55 216.49 L82.8 215.94 L83.05 215.47 L83.3 215.22 L83.55 215.25 L83.8 215.55 L84.05 216.04 L84.3 216.61 L84.55 217.13 L84.8 217.55 L85.05 217.84 L85.3 218.02 L85.55 218.12 L85.8 218.17 L86.05 218.19 L86.3 218.2 L86.55 218.2 L86.8 218.2 L87.05 218.2 L87.3 218.19 L87.55 218.18 L87.8 218.13 L88.05 218.01 L88.3 217.76 L88.55 217.28 L88.8 216.46 L89.05 215.27 L89.3 213.78 L89.55 212.24 L89.8 211 L90.05 210.42 L90.3 210.67 L90.55 211.68 L90.8 213.15 L91.05 214.7 L91.3 216.03 L91.55 217 L91.8 217.6 L92.05 217.93 L92.3 218.09 L92.55 218.16 L92.8 218.19 L93.05 218.2 L93.3 218.2 L93.55 218.2 L93.8 218.2 L94.05 218.2 L94.3 218.2 L94.55 218.2 L94.8 218.2 L95.05 218.2 L95.3 218.2 L95.55 218.2 L95.8 218.2 L96.05 218.19 L96.3 218.16 L96.55 218.08 L96.8 217.9 L97.05 217.54 L97.3 216.9 L97.55 215.92 L97.8 214.6 L98.05 213.12 L98.3 211.78 L98.55 210.95 L98.8 210.87 L99.05 211.56 L99.3 212.83 L99.55 214.31 L99.8 215.68 L100.05 216.74 L100.3 217.44 L100.55 217.85 L100.8 218.05 L101.05 218.15 L101.3 218.18 L101.55 218.19 L101.8 218.2 L102.05 218.2 L102.3 218.2 L102.55 218.19 L102.8 218.16 L103.05 218.09 L103.3 217.94 L103.55 217.64 L103.8 217.15 L104.05 216.44 L104.3 215.54 L104.55 214.61 L104.8 213.86 L105.05 213.51 L105.3 213.66 L105.55 214.27 L105.8 215.16 L106.05 216.09 L106.3 216.89 L106.55 217.47 L106.8 217.84 L107.05 218.04 L107.3 218.14 L107.55 218.18 L107.8 218.19 L108.05 218.2 L108.3 218.19 L108.55 218.17 L108.8 218.12 L109.05 218.01 L109.3 217.79 L109.55 217.41 L109.8 216.84 L110.05 216.1 L110.3 215.3 L110.55 214.61 L110.8 214.24 L111.05 214.28 L111.3 214.73 L111.55 215.45 L111.8 216.25 L112.05 216.97 L112.3 217.5 L112.55 217.84 L112.8 218.04 L113.05 218.13 L113.3 218.18 L113.55 218.19 L113.8 218.2 L114.05 218.2 L114.3 218.2 L114.55 218.2 L114.8 218.2 L115.05 218.2 L115.3 218.19 L115.55 218.18 L115.8 218.13 L116.05 218 L116.3 217.71 L116.55 217.12 L116.8 216.08 L117.05 214.47 L117.3 212.31 L117.55 209.89 L117.8 207.7 L118.05 206.34 L118.3 206.21 L118.55 207.35 L118.8 209.41 L119.05 211.83 L119.3 214.07 L119.55 215.81 L119.8 216.96 L120.05 217.62 L120.3 217.96 L120.55 218.11 L120.8 218.17 L121.05 218.19 L121.3 218.2 L121.55 218.2 L121.8 218.2 L122.05 218.2 L122.3 218.2 L122.55 218.2 L122.8 218.2 L123.05 218.2 L123.3 218.2 L123.55 218.2 L123.8 218.2 L124.05 218.2 L124.3 218.2 L124.55 218.19 L124.8 218.16 L125.05 218.1 L125.3 217.93 L125.55 217.58 L125.8 216.93 L126.05 215.86 L126.3 214.34 L126.55 212.5 L126.8 210.67 L127.05 209.31 L127.3 208.8 L127.55 209.31 L127.8 210.67 L128.05 212.5 L128.3 214.34 L128.55 215.86 L128.8 216.93 L129.05 217.58 L129.3 217.93 L129.55 218.1 L129.8 218.16 L130.05 218.19 L130.3 218.2 L130.55 218.2 L130.8 218.2 L131.05 218.2 L131.3 218.2 L131.55 218.2 L131.8 218.2 L132.05 218.2 L132.3 218.2 L132.55 218.2 L132.8 218.2 L133.05 218.2 L133.3 218.2 L133.55 218.2 L133.8 218.2 L134.05 218.2 L134.3 218.19 L134.55 218.17 L134.8 218.11 L135.05 217.97 L135.3 217.7 L135.55 217.24 L135.8 216.58 L136.05 215.8 L136.3 215.06 L136.55 214.58 L136.8 214.54 L137.05 214.93 L137.3 215.64 L137.55 216.43 L137.8 217.12 L138.05 217.62 L138.3 217.93 L138.55 218.08 L138.8 218.14 L139.05 218.14 L139.3 218.08 L139.55 217.94 L139.8 217.69 L140.05 217.32 L140.3 216.87 L140.55 216.41 L140.8 216.09 L141.05 216.01 L141.3 216.19 L141.55 216.58 L141.8 217.06 L142.05 217.49 L142.3 217.81 L142.55 218.01 L142.8 218.12 L143.05 218.17 L143.3 218.19 L143.55 218.2 L143.8 218.2 L144.05 218.2 L144.3 218.2 L144.55 218.19 L144.8 218.17 L145.05 218.11 L145.3 217.99 L145.55 217.73 L145.8 217.27 L146.05 216.56 L146.3 215.62 L146.55 214.56 L146.8 213.6 L147.05 213 L147.3 212.95 L147.55 213.45 L147.8 214.35 L148.05 215.41 L148.3 216.39 L148.55 217.15 L148.8 217.65 L149.05 217.94 L149.3 218.09 L149.55 218.13 L149.8 218.11 L150.05 218 L150.3 217.78 L150.55 217.4 L150.8 216.84 L151.05 216.19 L151.3 215.57 L151.55 215.17 L151.8 215.13 L152.05 215.46 L152.3 216.05 L152.55 216.72 L152.8 217.3 L153.05 217.72 L153.3 217.97 L153.55 218.11 L153.8 218.17 L154.05 218.19 L154.3 218.19 L154.55 218.18 L154.8 218.13 L155.05 218 L155.3 217.73 L155.55 217.28 L155.8 216.68 L156.05 216.09 L156.3 215.73 L156.55 215.78 L156.8 216.2 L157.05 216.81 L157.3 217.39 L157.55 217.8 L157.8 218.03 L158.05 218.13 L158.3 218.14 L158.55 218.08 L158.8 217.9 L159.05 217.57 L159.3 217.09 L159.55 216.54 L159.8 216.12 L160.05 216.01 L160.3 216.26 L160.55 216.75 L160.8 217.3 L161.05 217.72 L161.3 217.99 L161.55 218.12 L161.8 218.18 L162.05 218.19 L162.3 218.19 L162.55 218.18 L162.8 218.12 L163.05 217.99 L163.3 217.7 L163.55 217.21 L163.8 216.56 L164.05 215.92 L164.3 215.54 L164.55 215.58 L164.8 216.04 L165.05 216.7 L165.3 217.32 L165.55 217.77 L165.8 218.02 L166.05 218.14 L166.3 218.18 L166.55 218.2 L166.8 218.2 L167.05 218.2 L167.3 218.2 L167.55 218.2 L167.8 218.2 L168.05 218.2 L168.3 218.2 L168.55 218.2 L168.8 218.2 L169.05 218.19 L169.3 218.16 L169.55 218.1 L169.8 217.95 L170.05 217.67 L170.3 217.21 L170.55 216.57 L170.8 215.85 L171.05 215.2 L171.3 214.83 L171.55 214.88 L171.8 215.31 L172.05 215.99 L172.3 216.71 L172.55 217.32 L172.8 217.74 L173.05 217.99 L173.3 218.11 L173.55 218.17 L173.8 218.19 L174.05 218.19 L174.3 218.17 L174.55 218.12 L174.8 218.01 L175.05 217.8 L175.3 217.49 L175.55 217.14 L175.8 216.88 L176.05 216.8 L176.3 216.96 L176.55 217.28 L176.8 217.62 L177.05 217.9 L177.3 218.07 L177.55 218.15 L177.8 218.18 L178.05 218.19 L178.3 218.17 L178.55 218.11 L178.8 217.97 L179.05 217.71 L179.3 217.34 L179.55 216.92 L179.8 216.59 L180.05 216.51 L180.3 216.7 L180.55 217.08 L180.8 217.5 L181.05 217.83 L181.3 218.04 L181.55 218.13 L181.8 218.16 L182.05 218.13 L182.3 218 L182.55 217.68 L182.8 216.99 L183.05 215.65 L183.3 213.39 L183.55 210.09 L183.8 205.97 L184.05 201.69 L184.3 198.26 L184.55 196.65 L184.8 197.35 L185.05 200.16 L185.3 204.23 L185.55 208.52 L185.8 212.19 L186.05 214.87 L186.3 216.54 L186.55 217.46 L186.8 217.91 L187.05 218.1 L187.3 218.17 L187.55 218.19 L187.8 218.2 L188.05 218.2 L188.3 218.2 L188.55 218.19 L188.8 218.17 L189.05 218.12 L189.3 217.99 L189.55 217.72 L189.8 217.26 L190.05 216.57 L190.3 215.71 L190.55 214.87 L190.8 214.26 L191.05 214.11 L191.3 214.46 L191.55 215.19 L191.8 216.07 L192.05 216.87 L192.3 217.47 L192.55 217.85 L192.8 218.05 L193.05 218.14 L193.3 218.18 L193.55 218.19 L193.8 218.2 L194.05 218.2 L194.3 218.2 L194.55 218.19 L194.8 218.18 L195.05 218.15 L195.3 218.11 L195.55 218.03 L195.8 217.91 L196.05 217.76 L196.3 217.59 L196.55 217.43 L196.8 217.33 L197.05 217.3 L197.3 217.36 L197.55 217.49 L197.8 217.65 L198.05 217.82 L198.3 217.96 L198.55 218.06 L198.8 218.13 L199.05 218.17 L199.3 218.19 L199.55 218.19 L199.8 218.2 L200.05 218.2 L200.3 218.2 L200.55 218.19 L200.8 218.18 L201.05 218.15 L201.3 218.1 L201.55 218.01 L201.8 217.88 L202.05 217.71 L202.3 217.52 L202.55 217.35 L202.8 217.23 L203.05 217.2 L203.3 217.27 L203.55 217.41 L203.8 217.59 L204.05 217.78 L204.3 217.93 L204.55 218.05 L204.8 218.12 L205.05 218.16 L205.3 218.18 L205.55 218.19 L205.8 218.2 L206.05 218.2 L206.3 218.2 L206.55 218.2 L206.8 218.2 L207.05 218.2 L207.3 218.2 L207.55 218.19 L207.8 218.18 L208.05 218.15 L208.3 218.11 L208.55 218.03 L208.8 217.91 L209.05 217.76 L209.3 217.59 L209.55 217.43 L209.8 217.33 L210.05 217.3 L210.3 217.36 L210.55 217.49 L210.8 217.65 L211.05 217.82 L211.3 217.96 L211.55 218.06 L211.8 218.13 L212.05 218.17 L212.3 218.19 L212.55 218.19 L212.8 218.2 L213.05 218.2 L213.3 218.2 L213.55 218.19 L213.8 218.17 L214.05 218.14 L214.3 218.07 L214.55 217.97 L214.8 217.81 L215.05 217.61 L215.3 217.38 L215.55 217.18 L215.8 217.04 L216.05 217 L216.3 217.08 L216.55 217.25 L216.8 217.47 L217.05 217.69 L217.3 217.88 L217.55 218.02 L217.8 218.1 L218.05 218.15 L218.3 218.18 L218.55 218.19 L218.8 218.2 L219.05 218.2 L219.3 218.2 L219.55 218.2 L219.8 218.2" stroke="#000" stroke-width="0.85" fill="none"/>
<text x="15" y="207.2" font-size="6.8" text-anchor="middle" stroke="#1c1c1c" stroke-width="0.18" transform="rotate(-90 15 207.2)">Network firing</text>
<text x="22.4" y="205.5" font-size="7" text-anchor="middle" textLength="39" transform="rotate(-90 22.4 205.5)">(spikes s<tspan font-size="5.6" dy="-2.6">−1</tspan><tspan dy="2.6">)</tspan></text>
<path d="M68.16 233.4h0.8v1.6h-0.8zM120.96 233.4h0.8v1.6h-0.8zM77.79 233.4h0.9v1.6h-0.9zM101.74 233.4h0.9v1.6h-0.9zM121.05 235.27h0.8v1.6h-0.8zM63.93 235.27h0.9v1.6h-0.9zM66.09 235.27h0.9v1.6h-0.9zM67.66 235.27h0.9v1.6h-0.9zM89.84 235.27h0.9v1.6h-0.9zM108.21 235.27h0.9v1.6h-0.9zM117.73 235.27h0.9v1.6h-0.9zM121.12 237.14h0.8v1.6h-0.8zM48.76 237.14h0.9v1.6h-0.9zM55.52 237.14h0.9v1.6h-0.9zM59.12 237.14h0.9v1.6h-0.9zM68.23 237.14h0.9v1.6h-0.9zM75.65 237.14h0.9v1.6h-0.9zM77.36 237.14h0.9v1.6h-0.9zM80.97 237.14h0.9v1.6h-0.9zM84.1 237.14h0.9v1.6h-0.9zM106.24 237.14h0.9v1.6h-0.9zM109.17 237.14h0.9v1.6h-0.9zM144.71 237.14h0.9v1.6h-0.9zM154.14 237.14h0.9v1.6h-0.9zM161.65 237.14h0.9v1.6h-0.9zM167.71 237.14h0.9v1.6h-0.9zM172.09 237.14h0.9v1.6h-0.9zM196.51 237.14h0.9v1.6h-0.9zM119.74 239.01h0.8v1.6h-0.8zM153.12 239.01h0.8v1.6h-0.8zM47.17 239.01h0.9v1.6h-0.9zM53.73 239.01h0.9v1.6h-0.9zM62.95 239.01h0.9v1.6h-0.9zM64.26 239.01h0.9v1.6h-0.9zM68.76 239.01h0.9v1.6h-0.9zM72.19 239.01h0.9v1.6h-0.9zM90.38 239.01h0.9v1.6h-0.9zM94.99 239.01h0.9v1.6h-0.9zM95.03 239.01h0.9v1.6h-0.9zM98.78 239.01h0.9v1.6h-0.9zM105.29 239.01h0.9v1.6h-0.9zM108.08 239.01h0.9v1.6h-0.9zM133.33 239.01h0.9v1.6h-0.9zM133.5 239.01h0.9v1.6h-0.9zM140.32 239.01h0.9v1.6h-0.9zM142.7 239.01h0.9v1.6h-0.9zM146.95 239.01h0.9v1.6h-0.9zM168.02 239.01h0.9v1.6h-0.9zM170.48 239.01h0.9v1.6h-0.9zM173.19 239.01h0.9v1.6h-0.9zM177.62 239.01h0.9v1.6h-0.9zM179.03 239.01h0.9v1.6h-0.9zM182.29 239.01h0.9v1.6h-0.9zM203.16 239.01h0.9v1.6h-0.9zM211.52 239.01h0.9v1.6h-0.9zM217.84 239.01h0.9v1.6h-0.9zM187.62 240.88h0.8v1.6h-0.8zM43.6 240.88h0.9v1.6h-0.9zM170.86 240.88h0.9v1.6h-0.9zM176.01 240.88h0.9v1.6h-0.9zM207.49 240.88h0.9v1.6h-0.9zM91.32 242.75h0.8v1.6h-0.8zM186.49 242.75h0.8v1.6h-0.8zM79.1 242.75h0.9v1.6h-0.9zM85.04 242.75h0.9v1.6h-0.9zM115.6 242.75h0.9v1.6h-0.9zM161.11 242.75h0.9v1.6h-0.9zM162.76 242.75h0.9v1.6h-0.9zM218.17 242.75h0.9v1.6h-0.9zM48.72 246.49h0.8v1.6h-0.8zM200.51 246.49h0.8v1.6h-0.8zM60.32 246.49h0.9v1.6h-0.9zM61.72 246.49h0.9v1.6h-0.9zM62.66 246.49h0.9v1.6h-0.9zM79.81 246.49h0.9v1.6h-0.9zM85.4 246.49h0.9v1.6h-0.9zM101.49 246.49h0.9v1.6h-0.9zM124.62 246.49h0.9v1.6h-0.9zM126.07 246.49h0.9v1.6h-0.9zM128.95 246.49h0.9v1.6h-0.9zM147.51 246.49h0.9v1.6h-0.9zM149.22 246.49h0.9v1.6h-0.9zM152.77 246.49h0.9v1.6h-0.9zM153.9 246.49h0.9v1.6h-0.9zM154.44 246.49h0.9v1.6h-0.9zM177.69 246.49h0.9v1.6h-0.9zM51.82 248.36h0.8v1.6h-0.8zM41.79 248.36h0.9v1.6h-0.9zM61.87 248.36h0.9v1.6h-0.9zM72.38 248.36h0.9v1.6h-0.9zM79.26 248.36h0.9v1.6h-0.9zM80.26 248.36h0.9v1.6h-0.9zM93.21 248.36h0.9v1.6h-0.9zM100.87 248.36h0.9v1.6h-0.9zM102.24 248.36h0.9v1.6h-0.9zM128.47 248.36h0.9v1.6h-0.9zM130.13 248.36h0.9v1.6h-0.9zM155.89 248.36h0.9v1.6h-0.9zM160.96 248.36h0.9v1.6h-0.9zM167.88 248.36h0.9v1.6h-0.9zM194.21 248.36h0.9v1.6h-0.9zM201.84 248.36h0.9v1.6h-0.9zM101.58 250.23h0.8v1.6h-0.8zM119.9 250.23h0.8v1.6h-0.8zM44.13 250.23h0.9v1.6h-0.9zM105.49 250.23h0.9v1.6h-0.9zM115.43 250.23h0.9v1.6h-0.9zM130.15 250.23h0.9v1.6h-0.9zM146.42 250.23h0.9v1.6h-0.9zM156.87 250.23h0.9v1.6h-0.9zM174.49 250.23h0.9v1.6h-0.9zM181.26 250.23h0.9v1.6h-0.9zM193.89 250.23h0.9v1.6h-0.9zM199.88 250.23h0.9v1.6h-0.9zM211.33 250.23h0.9v1.6h-0.9zM212.59 250.23h0.9v1.6h-0.9zM212.63 250.23h0.9v1.6h-0.9zM128.94 252.1h0.8v1.6h-0.8zM47.79 252.1h0.9v1.6h-0.9zM56.89 252.1h0.9v1.6h-0.9zM60.8 252.1h0.9v1.6h-0.9zM80.07 252.1h0.9v1.6h-0.9zM96.31 252.1h0.9v1.6h-0.9zM97.39 252.1h0.9v1.6h-0.9zM108.27 252.1h0.9v1.6h-0.9zM151.27 252.1h0.9v1.6h-0.9zM159.52 252.1h0.9v1.6h-0.9zM167.92 252.1h0.9v1.6h-0.9zM176.5 252.1h0.9v1.6h-0.9zM51.39 253.97h0.8v1.6h-0.8zM99.76 253.97h0.8v1.6h-0.8zM174.21 253.97h0.8v1.6h-0.8zM46.12 253.97h0.9v1.6h-0.9zM62.98 253.97h0.9v1.6h-0.9zM69.02 253.97h0.9v1.6h-0.9zM87.18 253.97h0.9v1.6h-0.9zM88.45 253.97h0.9v1.6h-0.9zM105.26 253.97h0.9v1.6h-0.9zM106.87 253.97h0.9v1.6h-0.9zM118.77 253.97h0.9v1.6h-0.9zM176.29 253.97h0.9v1.6h-0.9zM178.69 253.97h0.9v1.6h-0.9zM179.99 253.97h0.9v1.6h-0.9zM182.8 253.97h0.9v1.6h-0.9zM191.02 253.97h0.9v1.6h-0.9zM193.65 253.97h0.9v1.6h-0.9zM195.87 253.97h0.9v1.6h-0.9zM197.08 253.97h0.9v1.6h-0.9zM218.07 253.97h0.9v1.6h-0.9zM52.35 255.84h0.8v1.6h-0.8zM128.78 255.84h0.8v1.6h-0.8zM186.47 255.84h0.8v1.6h-0.8zM210.5 255.84h0.8v1.6h-0.8zM52.52 255.84h0.9v1.6h-0.9zM68.98 255.84h0.9v1.6h-0.9zM85.71 255.84h0.9v1.6h-0.9zM92.37 255.84h0.9v1.6h-0.9zM93.63 255.84h0.9v1.6h-0.9zM94.05 255.84h0.9v1.6h-0.9zM116.61 255.84h0.9v1.6h-0.9zM126.03 255.84h0.9v1.6h-0.9zM132.81 255.84h0.9v1.6h-0.9zM134.9 255.84h0.9v1.6h-0.9zM136.26 255.84h0.9v1.6h-0.9zM149.14 255.84h0.9v1.6h-0.9zM154.6 255.84h0.9v1.6h-0.9zM186.38 255.84h0.9v1.6h-0.9zM202.07 255.84h0.9v1.6h-0.9zM120.68 257.71h0.8v1.6h-0.8zM143.9 257.71h0.8v1.6h-0.8zM150.2 257.71h0.8v1.6h-0.8zM204.86 257.71h0.8v1.6h-0.8zM76.83 257.71h0.9v1.6h-0.9zM91.19 257.71h0.9v1.6h-0.9zM94.28 257.71h0.9v1.6h-0.9zM101 257.71h0.9v1.6h-0.9zM104.84 257.71h0.9v1.6h-0.9zM115.02 257.71h0.9v1.6h-0.9zM140.04 257.71h0.9v1.6h-0.9zM147.74 257.71h0.9v1.6h-0.9zM153.39 257.71h0.9v1.6h-0.9zM186.36 257.71h0.9v1.6h-0.9zM204.99 257.71h0.9v1.6h-0.9zM53.31 259.58h0.8v1.6h-0.8zM66.29 259.58h0.8v1.6h-0.8zM78.53 259.58h0.8v1.6h-0.8zM92.21 259.58h0.8v1.6h-0.8zM129.01 259.58h0.8v1.6h-0.8zM187.22 259.58h0.8v1.6h-0.8zM56.93 259.58h0.9v1.6h-0.9zM57.06 259.58h0.9v1.6h-0.9zM58.58 259.58h0.9v1.6h-0.9zM77.75 259.58h0.9v1.6h-0.9zM93.92 259.58h0.9v1.6h-0.9zM98.55 259.58h0.9v1.6h-0.9zM100.15 259.58h0.9v1.6h-0.9zM104.79 259.58h0.9v1.6h-0.9zM138.11 259.58h0.9v1.6h-0.9zM142.68 259.58h0.9v1.6h-0.9zM150.67 259.58h0.9v1.6h-0.9zM162.76 259.58h0.9v1.6h-0.9zM162.96 259.58h0.9v1.6h-0.9zM204.33 259.58h0.9v1.6h-0.9zM129.2 261.45h0.8v1.6h-0.8zM138.59 261.45h0.8v1.6h-0.8zM50.11 261.45h0.9v1.6h-0.9zM59.6 261.45h0.9v1.6h-0.9zM61.81 261.45h0.9v1.6h-0.9zM74.66 261.45h0.9v1.6h-0.9zM79.49 261.45h0.9v1.6h-0.9zM97.43 261.45h0.9v1.6h-0.9zM103.76 261.45h0.9v1.6h-0.9zM106.52 261.45h0.9v1.6h-0.9zM106.64 261.45h0.9v1.6h-0.9zM114.36 261.45h0.9v1.6h-0.9zM114.89 261.45h0.9v1.6h-0.9zM126.85 261.45h0.9v1.6h-0.9zM129.19 261.45h0.9v1.6h-0.9zM130.07 261.45h0.9v1.6h-0.9zM135.18 261.45h0.9v1.6h-0.9zM143.42 261.45h0.9v1.6h-0.9zM153.37 261.45h0.9v1.6h-0.9zM157.1 261.45h0.9v1.6h-0.9zM159.87 261.45h0.9v1.6h-0.9zM173.25 261.45h0.9v1.6h-0.9zM176.69 261.45h0.9v1.6h-0.9zM211.87 261.45h0.9v1.6h-0.9zM214.9 261.45h0.9v1.6h-0.9zM85.13 263.32h0.8v1.6h-0.8zM119.02 263.32h0.8v1.6h-0.8zM72.84 263.32h0.9v1.6h-0.9zM78.45 263.32h0.9v1.6h-0.9zM118.33 263.32h0.9v1.6h-0.9zM132.38 263.32h0.9v1.6h-0.9zM134.25 263.32h0.9v1.6h-0.9zM101.51 265.19h0.8v1.6h-0.8zM112.49 265.19h0.8v1.6h-0.8zM46.33 265.19h0.9v1.6h-0.9zM51.38 265.19h0.9v1.6h-0.9zM55.92 265.19h0.9v1.6h-0.9zM129.04 265.19h0.9v1.6h-0.9zM131.77 265.19h0.9v1.6h-0.9zM155.42 265.19h0.9v1.6h-0.9zM188.63 265.19h0.9v1.6h-0.9zM198.28 265.19h0.9v1.6h-0.9zM201.8 265.19h0.9v1.6h-0.9zM201.81 265.19h0.9v1.6h-0.9zM43.11 267.06h0.9v1.6h-0.9zM47.35 267.06h0.9v1.6h-0.9zM49.87 267.06h0.9v1.6h-0.9zM53.73 267.06h0.9v1.6h-0.9zM63.57 267.06h0.9v1.6h-0.9zM66.56 267.06h0.9v1.6h-0.9zM69.13 267.06h0.9v1.6h-0.9zM70.02 267.06h0.9v1.6h-0.9zM93.31 267.06h0.9v1.6h-0.9zM102.24 267.06h0.9v1.6h-0.9zM102.66 267.06h0.9v1.6h-0.9zM106.91 267.06h0.9v1.6h-0.9zM110.16 267.06h0.9v1.6h-0.9zM119.86 267.06h0.9v1.6h-0.9zM123.89 267.06h0.9v1.6h-0.9zM131.92 267.06h0.9v1.6h-0.9zM133.9 267.06h0.9v1.6h-0.9zM145.45 267.06h0.9v1.6h-0.9zM155.63 267.06h0.9v1.6h-0.9zM156.31 267.06h0.9v1.6h-0.9zM160.74 267.06h0.9v1.6h-0.9zM167.11 267.06h0.9v1.6h-0.9zM188.59 267.06h0.9v1.6h-0.9zM194.35 267.06h0.9v1.6h-0.9zM199.33 267.06h0.9v1.6h-0.9zM113.14 268.93h0.8v1.6h-0.8zM100.27 270.8h0.8v1.6h-0.8zM118.81 270.8h0.8v1.6h-0.8zM200.41 270.8h0.8v1.6h-0.8zM57.8 270.8h0.9v1.6h-0.9zM118.2 270.8h0.9v1.6h-0.9zM182.22 270.8h0.9v1.6h-0.9zM200.32 270.8h0.9v1.6h-0.9zM205.02 270.8h0.9v1.6h-0.9zM206.84 270.8h0.9v1.6h-0.9zM92.07 272.67h0.8v1.6h-0.8zM213.69 272.67h0.8v1.6h-0.8zM54.33 272.67h0.9v1.6h-0.9zM56.65 272.67h0.9v1.6h-0.9zM59.98 272.67h0.9v1.6h-0.9zM73.11 272.67h0.9v1.6h-0.9zM77.2 272.67h0.9v1.6h-0.9zM86.52 272.67h0.9v1.6h-0.9zM99.46 272.67h0.9v1.6h-0.9zM99.74 272.67h0.9v1.6h-0.9zM112.19 272.67h0.9v1.6h-0.9zM127.88 272.67h0.9v1.6h-0.9zM132.72 272.67h0.9v1.6h-0.9zM136.4 272.67h0.9v1.6h-0.9zM58.18 274.54h0.9v1.6h-0.9zM90.57 274.54h0.9v1.6h-0.9zM188.8 274.54h0.9v1.6h-0.9zM82.57 276.41h0.9v1.6h-0.9zM124.24 276.41h0.9v1.6h-0.9zM137.1 276.41h0.9v1.6h-0.9zM150.23 276.41h0.9v1.6h-0.9zM154.13 276.41h0.9v1.6h-0.9zM157.41 276.41h0.9v1.6h-0.9zM211.29 276.41h0.9v1.6h-0.9zM44.5 278.28h0.9v1.6h-0.9zM69.72 278.28h0.9v1.6h-0.9zM130.06 278.28h0.9v1.6h-0.9zM201.08 278.28h0.9v1.6h-0.9zM47.73 280.15h0.9v1.6h-0.9zM71.33 280.15h0.9v1.6h-0.9zM112.58 280.15h0.9v1.6h-0.9zM124.54 280.15h0.9v1.6h-0.9zM217.21 280.15h0.9v1.6h-0.9zM60.8 282.02h0.9v1.6h-0.9zM72.69 282.02h0.9v1.6h-0.9zM130.39 282.02h0.9v1.6h-0.9zM136.48 282.02h0.9v1.6h-0.9zM188.59 282.02h0.9v1.6h-0.9zM157.62 283.89h0.8v1.6h-0.8zM42.67 283.89h0.9v1.6h-0.9zM100.09 283.89h0.9v1.6h-0.9zM132.75 283.89h0.9v1.6h-0.9zM159.41 283.89h0.9v1.6h-0.9zM168.94 283.89h0.9v1.6h-0.9zM42.5 239.31h1.2v1h-1.2zM45.6 239.31h1.2v1h-1.2zM48.87 239.31h1.2v1h-1.2zM51.49 239.31h1.2v1h-1.2zM54.78 239.31h1.2v1h-1.2zM57.15 239.31h1.2v1h-1.2zM59.93 239.31h1.2v1h-1.2zM62.36 239.31h1.2v1h-1.2zM65.12 239.31h1.2v1h-1.2zM68.1 239.31h1.2v1h-1.2zM71.11 239.31h1.2v1h-1.2zM73.86 239.31h1.2v1h-1.2zM76.51 239.31h1.2v1h-1.2zM79 239.31h1.2v1h-1.2zM81.7 239.31h1.2v1h-1.2zM84.28 239.31h1.2v1h-1.2zM86.78 239.31h1.2v1h-1.2zM89.81 239.31h1.2v1h-1.2zM92.63 239.31h1.2v1h-1.2zM95.37 239.31h1.2v1h-1.2zM97.86 239.31h1.2v1h-1.2zM100.87 239.31h1.2v1h-1.2zM103.36 239.31h1.2v1h-1.2zM105.93 239.31h1.2v1h-1.2zM108.79 239.31h1.2v1h-1.2zM111.79 239.31h1.2v1h-1.2zM115.06 239.31h1.2v1h-1.2zM118.11 239.31h1.2v1h-1.2zM121.36 239.31h1.2v1h-1.2zM124.58 239.31h1.2v1h-1.2zM127.6 239.31h1.2v1h-1.2zM130.62 239.31h1.2v1h-1.2zM132.98 239.31h1.2v1h-1.2zM135.49 239.31h1.2v1h-1.2zM137.8 239.31h1.2v1h-1.2zM140.97 239.31h1.2v1h-1.2zM143.99 239.31h1.2v1h-1.2zM146.92 239.31h1.2v1h-1.2zM149.48 239.31h1.2v1h-1.2zM152.14 239.31h1.2v1h-1.2zM154.6 239.31h1.2v1h-1.2zM157.53 239.31h1.2v1h-1.2zM160.83 239.31h1.2v1h-1.2zM163.43 239.31h1.2v1h-1.2zM165.78 239.31h1.2v1h-1.2zM168.25 239.31h1.2v1h-1.2zM170.91 239.31h1.2v1h-1.2zM174.11 239.31h1.2v1h-1.2zM177.21 239.31h1.2v1h-1.2zM179.96 239.31h1.2v1h-1.2zM182.37 239.31h1.2v1h-1.2zM184.77 239.31h1.2v1h-1.2zM187.23 239.31h1.2v1h-1.2zM190.3 239.31h1.2v1h-1.2zM193.08 239.31h1.2v1h-1.2zM196.37 239.31h1.2v1h-1.2zM199.58 239.31h1.2v1h-1.2zM202.67 239.31h1.2v1h-1.2zM205.45 239.31h1.2v1h-1.2zM208.57 239.31h1.2v1h-1.2zM211 239.31h1.2v1h-1.2zM213.41 239.31h1.2v1h-1.2zM216.27 239.31h1.2v1h-1.2zM43 245.02h0.8v0.8h-0.8zM45.38 245.02h0.8v0.8h-0.8zM60.65 245.02h0.8v0.8h-0.8zM62.67 245.02h0.8v0.8h-0.8zM65.55 245.02h0.8v0.8h-0.8zM70.74 245.02h0.8v0.8h-0.8zM75.61 245.02h0.8v0.8h-0.8zM81.42 245.02h0.8v0.8h-0.8zM84.38 245.02h0.8v0.8h-0.8zM89.32 245.02h0.8v0.8h-0.8zM92.21 245.02h0.8v0.8h-0.8zM94.51 245.02h0.8v0.8h-0.8zM100.45 245.02h0.8v0.8h-0.8zM104.63 245.02h0.8v0.8h-0.8zM110.3 245.02h0.8v0.8h-0.8zM115.98 245.02h0.8v0.8h-0.8zM119.34 245.02h0.8v0.8h-0.8zM121.44 245.02h0.8v0.8h-0.8zM124.92 245.02h0.8v0.8h-0.8zM133.85 245.02h0.8v0.8h-0.8zM139.2 245.02h0.8v0.8h-0.8zM141.27 245.02h0.8v0.8h-0.8zM144.67 245.02h0.8v0.8h-0.8zM153.03 245.02h0.8v0.8h-0.8zM160.28 245.02h0.8v0.8h-0.8zM163.49 245.02h0.8v0.8h-0.8zM166.26 245.02h0.8v0.8h-0.8zM172.81 245.02h0.8v0.8h-0.8zM176.09 245.02h0.8v0.8h-0.8zM179.32 245.02h0.8v0.8h-0.8zM182.25 245.02h0.8v0.8h-0.8zM185.45 245.02h0.8v0.8h-0.8zM187.53 245.02h0.8v0.8h-0.8zM189.97 245.02h0.8v0.8h-0.8zM197.23 245.02h0.8v0.8h-0.8zM201.73 245.02h0.8v0.8h-0.8zM206.71 245.02h0.8v0.8h-0.8zM214.28 245.02h0.8v0.8h-0.8zM73.29 269.08h1v1.3h-1zM83.04 269.08h1v1.3h-1zM91.77 269.08h1v1.3h-1zM111.03 269.08h1v1.3h-1zM128.4 269.08h1v1.3h-1zM137.3 269.08h1v1.3h-1zM168.52 269.08h1v1.3h-1zM192.24 269.08h1v1.3h-1zM217.91 269.08h1v1.3h-1zM42.5 278.58h1.3v1h-1.3zM45.13 278.58h1.3v1h-1.3zM47.85 278.58h1.3v1h-1.3zM51.25 278.58h1.3v1h-1.3zM53.66 278.58h1.3v1h-1.3zM56.35 278.58h1.3v1h-1.3zM59.54 278.58h1.3v1h-1.3zM63.02 278.58h1.3v1h-1.3zM65.62 278.58h1.3v1h-1.3zM68.5 278.58h1.3v1h-1.3zM71.66 278.58h1.3v1h-1.3zM74.82 278.58h1.3v1h-1.3zM78.04 278.58h1.3v1h-1.3zM81.26 278.58h1.3v1h-1.3zM83.94 278.58h1.3v1h-1.3zM86.62 278.58h1.3v1h-1.3zM89.05 278.58h1.3v1h-1.3zM92.21 278.58h1.3v1h-1.3zM94.84 278.58h1.3v1h-1.3zM97.53 278.58h1.3v1h-1.3zM100.99 278.58h1.3v1h-1.3zM104.1 278.58h1.3v1h-1.3zM107.15 278.58h1.3v1h-1.3zM110.27 278.58h1.3v1h-1.3zM113.32 278.58h1.3v1h-1.3zM116.49 278.58h1.3v1h-1.3zM119.22 278.58h1.3v1h-1.3zM121.69 278.58h1.3v1h-1.3zM124.17 278.58h1.3v1h-1.3zM126.58 278.58h1.3v1h-1.3zM129.38 278.58h1.3v1h-1.3zM131.94 278.58h1.3v1h-1.3zM134.46 278.58h1.3v1h-1.3zM137.4 278.58h1.3v1h-1.3zM140.87 278.58h1.3v1h-1.3zM144.03 278.58h1.3v1h-1.3zM146.73 278.58h1.3v1h-1.3zM149.97 278.58h1.3v1h-1.3zM152.57 278.58h1.3v1h-1.3zM155.08 278.58h1.3v1h-1.3zM157.81 278.58h1.3v1h-1.3zM160.66 278.58h1.3v1h-1.3zM163.82 278.58h1.3v1h-1.3zM166.71 278.58h1.3v1h-1.3zM169.91 278.58h1.3v1h-1.3zM172.42 278.58h1.3v1h-1.3zM175.84 278.58h1.3v1h-1.3zM178.62 278.58h1.3v1h-1.3zM181.93 278.58h1.3v1h-1.3zM184.37 278.58h1.3v1h-1.3zM187.68 278.58h1.3v1h-1.3zM190.33 278.58h1.3v1h-1.3zM193.67 278.58h1.3v1h-1.3zM196.95 278.58h1.3v1h-1.3zM200.09 278.58h1.3v1h-1.3zM202.8 278.58h1.3v1h-1.3zM205.21 278.58h1.3v1h-1.3zM207.82 278.58h1.3v1h-1.3zM211.21 278.58h1.3v1h-1.3zM213.78 278.58h1.3v1h-1.3zM216.91 278.58h1.3v1h-1.3z" fill="#888"/>
<path d="M50.15 233.32h1.3v1.75h-1.3zM48 233.75h2.8v0.9h-2.8zM64.87 233.32h1.3v1.75h-1.3zM62.7 233.75h2.8v0.9h-2.8zM76.43 233.32h1.3v1.75h-1.3zM78.02 233.4h0.8v1.6h-0.8zM74.1 233.75h2.8v0.9h-2.8zM82.8 233.32h1.3v1.75h-1.3zM87.3 233.75h2.8v0.9h-2.8zM97.91 233.32h1.3v1.75h-1.3zM104.34 233.32h1.3v1.75h-1.3zM110.55 233.32h1.3v1.75h-1.3zM117.64 233.32h1.3v1.75h-1.3zM115.4 233.75h2.8v0.9h-2.8zM126.55 233.32h1.3v1.75h-1.3zM128.09 233.4h0.8v1.6h-0.8zM124.5 233.75h2.8v0.9h-2.8zM144.4 233.75h2.8v0.9h-2.8zM151.08 233.32h1.3v1.75h-1.3zM170.51 233.32h1.3v1.75h-1.3zM179.05 233.32h1.3v1.75h-1.3zM183.94 233.32h1.3v1.75h-1.3zM181.8 233.75h2.8v0.9h-2.8zM128.99 233.32h1.3v1.75h-1.3zM108.57 233.4h0.9v1.6h-0.9zM126.67 233.4h0.9v1.6h-0.9zM171.56 233.4h0.9v1.6h-0.9zM172.07 233.4h0.9v1.6h-0.9zM50.19 235.19h1.3v1.75h-1.3zM64.86 235.19h1.3v1.75h-1.3zM76.13 235.19h1.3v1.75h-1.3zM97.97 235.19h1.3v1.75h-1.3zM117.57 235.19h1.3v1.75h-1.3zM126.72 235.19h1.3v1.75h-1.3zM140.41 235.19h1.3v1.75h-1.3zM146.59 235.19h1.3v1.75h-1.3zM155.74 235.19h1.3v1.75h-1.3zM163.87 235.19h1.3v1.75h-1.3zM183.81 235.19h1.3v1.75h-1.3zM190.43 235.19h1.3v1.75h-1.3zM129.39 235.19h1.3v1.75h-1.3zM144.12 235.19h1.3v1.75h-1.3zM147.48 235.27h0.8v1.6h-0.8zM195.13 235.19h1.3v1.75h-1.3zM198.92 235.19h1.3v1.75h-1.3zM211.74 235.19h1.3v1.75h-1.3zM158.8 235.27h0.9v1.6h-0.9zM199.53 235.27h0.9v1.6h-0.9zM203.82 235.27h0.9v1.6h-0.9zM50.11 237.06h1.3v1.75h-1.3zM64.6 237.06h1.3v1.75h-1.3zM76.2 237.06h1.3v1.75h-1.3zM78.04 237.14h0.8v1.6h-0.8zM89.45 237.06h1.3v1.75h-1.3zM110.16 237.06h1.3v1.75h-1.3zM117.56 237.06h1.3v1.75h-1.3zM126.75 237.06h1.3v1.75h-1.3zM129.01 237.14h0.8v1.6h-0.8zM140.3 237.06h1.3v1.75h-1.3zM151.14 237.06h1.3v1.75h-1.3zM155.43 237.06h1.3v1.75h-1.3zM171.04 237.06h1.3v1.75h-1.3zM175.39 237.06h1.3v1.75h-1.3zM178.82 237.14h0.8v1.6h-0.8zM184.09 237.06h1.3v1.75h-1.3zM215.23 237.06h1.3v1.75h-1.3zM202.97 237.06h1.3v1.75h-1.3zM65 237.14h0.9v1.6h-0.9zM99.92 237.14h0.9v1.6h-0.9zM131 237.14h0.9v1.6h-0.9zM135.66 237.14h0.9v1.6h-0.9zM149.06 237.14h0.9v1.6h-0.9zM189.66 237.14h0.9v1.6h-0.9zM205.06 237.14h0.9v1.6h-0.9zM50.13 238.94h1.3v1.75h-1.3zM52.63 239.01h0.8v1.6h-0.8zM65 238.94h1.3v1.75h-1.3zM68.3 239.01h0.8v1.6h-0.8zM89.5 238.94h1.3v1.75h-1.3zM92.89 239.01h0.8v1.6h-0.8zM117.41 238.94h1.3v1.75h-1.3zM126.77 238.94h1.3v1.75h-1.3zM135.8 238.94h1.3v1.75h-1.3zM140.42 238.94h1.3v1.75h-1.3zM146.43 238.94h1.3v1.75h-1.3zM150.96 238.94h1.3v1.75h-1.3zM155.79 238.94h1.3v1.75h-1.3zM183.98 238.94h1.3v1.75h-1.3zM129.31 238.94h1.3v1.75h-1.3zM187.65 238.94h1.3v1.75h-1.3zM195.33 238.94h1.3v1.75h-1.3zM197.36 239.01h0.8v1.6h-0.8zM208.35 238.94h1.3v1.75h-1.3zM77 239.01h0.9v1.6h-0.9zM78.59 239.01h0.9v1.6h-0.9zM82.63 239.01h0.9v1.6h-0.9zM86.37 239.01h0.9v1.6h-0.9zM127.3 239.01h0.9v1.6h-0.9zM160.49 239.01h0.9v1.6h-0.9zM192.71 239.01h0.9v1.6h-0.9zM207.32 239.01h0.9v1.6h-0.9zM50 240.8h1.3v1.75h-1.3zM65.08 240.8h1.3v1.75h-1.3zM76.31 240.8h1.3v1.75h-1.3zM77.78 240.88h0.8v1.6h-0.8zM82.93 240.8h1.3v1.75h-1.3zM117.45 240.8h1.3v1.75h-1.3zM126.61 240.8h1.3v1.75h-1.3zM146.46 240.8h1.3v1.75h-1.3zM149.84 240.88h0.8v1.6h-0.8zM183.83 240.8h1.3v1.75h-1.3zM190.41 240.8h1.3v1.75h-1.3zM215.55 240.8h1.3v1.75h-1.3zM187.47 240.8h1.3v1.75h-1.3zM48.03 240.88h0.9v1.6h-0.9zM48.32 240.88h0.9v1.6h-0.9zM69.7 240.88h0.9v1.6h-0.9zM132.7 240.88h0.9v1.6h-0.9zM170.53 240.88h0.9v1.6h-0.9zM179.87 240.88h0.9v1.6h-0.9zM49.99 242.67h1.3v1.75h-1.3zM64.68 242.67h1.3v1.75h-1.3zM76.28 242.67h1.3v1.75h-1.3zM89.45 242.67h1.3v1.75h-1.3zM104.58 242.67h1.3v1.75h-1.3zM110.3 242.67h1.3v1.75h-1.3zM117.59 242.67h1.3v1.75h-1.3zM126.51 242.67h1.3v1.75h-1.3zM129.93 242.75h0.8v1.6h-0.8zM151.43 242.67h1.3v1.75h-1.3zM184.1 242.67h1.3v1.75h-1.3zM187.4 242.67h1.3v1.75h-1.3zM208.13 242.67h1.3v1.75h-1.3zM192.41 242.75h0.9v1.6h-0.9zM104.54 244.54h1.3v1.75h-1.3zM45.11 246.41h1.3v1.75h-1.3zM50.04 246.41h1.3v1.75h-1.3zM76.2 246.41h1.3v1.75h-1.3zM89.55 246.41h1.3v1.75h-1.3zM91.13 246.49h0.8v1.6h-0.8zM98.07 246.41h1.3v1.75h-1.3zM104.76 246.41h1.3v1.75h-1.3zM107.2 246.49h0.8v1.6h-0.8zM110.14 246.41h1.3v1.75h-1.3zM117.35 246.41h1.3v1.75h-1.3zM126.57 246.41h1.3v1.75h-1.3zM128.41 246.49h0.8v1.6h-0.8zM146.66 246.41h1.3v1.75h-1.3zM163.78 246.41h1.3v1.75h-1.3zM184.1 246.41h1.3v1.75h-1.3zM187.48 246.41h1.3v1.75h-1.3zM195.42 246.41h1.3v1.75h-1.3zM199.03 246.41h1.3v1.75h-1.3zM208.47 246.41h1.3v1.75h-1.3zM110.67 246.49h0.9v1.6h-0.9zM113 246.49h0.9v1.6h-0.9zM130.52 246.49h0.9v1.6h-0.9zM164.69 246.49h0.9v1.6h-0.9zM170.72 246.49h0.9v1.6h-0.9zM173.48 246.49h0.9v1.6h-0.9zM50.23 248.28h1.3v1.75h-1.3zM64.88 248.28h1.3v1.75h-1.3zM76.25 248.28h1.3v1.75h-1.3zM79.78 248.36h0.8v1.6h-0.8zM89.15 248.28h1.3v1.75h-1.3zM90.94 248.36h0.8v1.6h-0.8zM98.18 248.28h1.3v1.75h-1.3zM110.31 248.28h1.3v1.75h-1.3zM117.58 248.28h1.3v1.75h-1.3zM120.56 248.36h0.8v1.6h-0.8zM126.72 248.28h1.3v1.75h-1.3zM130.01 248.36h0.8v1.6h-0.8zM146.37 248.28h1.3v1.75h-1.3zM151.21 248.28h1.3v1.75h-1.3zM155.5 248.28h1.3v1.75h-1.3zM170.86 248.28h1.3v1.75h-1.3zM175.61 248.28h1.3v1.75h-1.3zM183.79 248.28h1.3v1.75h-1.3zM190.33 248.28h1.3v1.75h-1.3zM144.14 248.28h1.3v1.75h-1.3zM187.14 248.28h1.3v1.75h-1.3zM44.15 248.36h0.9v1.6h-0.9zM45.15 248.36h0.9v1.6h-0.9zM60.93 248.36h0.9v1.6h-0.9zM63.89 248.36h0.9v1.6h-0.9zM91.99 248.36h0.9v1.6h-0.9zM99.66 248.36h0.9v1.6h-0.9zM120.57 248.36h0.9v1.6h-0.9zM198.05 248.36h0.9v1.6h-0.9zM65.02 250.16h1.3v1.75h-1.3zM82.81 250.16h1.3v1.75h-1.3zM89.33 250.16h1.3v1.75h-1.3zM92.04 250.23h0.8v1.6h-0.8zM98.19 250.16h1.3v1.75h-1.3zM117.78 250.16h1.3v1.75h-1.3zM126.44 250.16h1.3v1.75h-1.3zM130.2 250.23h0.8v1.6h-0.8zM140.19 250.16h1.3v1.75h-1.3zM146.53 250.16h1.3v1.75h-1.3zM155.44 250.16h1.3v1.75h-1.3zM159.14 250.16h1.3v1.75h-1.3zM170.81 250.16h1.3v1.75h-1.3zM184.01 250.16h1.3v1.75h-1.3zM187.56 250.23h0.8v1.6h-0.8zM144.13 250.16h1.3v1.75h-1.3zM198.75 250.16h1.3v1.75h-1.3zM202.91 250.16h1.3v1.75h-1.3zM208.12 250.16h1.3v1.75h-1.3zM50.41 250.23h0.9v1.6h-0.9zM91.11 250.23h0.9v1.6h-0.9zM104.85 250.23h0.9v1.6h-0.9zM110.87 250.23h0.9v1.6h-0.9zM127.78 250.23h0.9v1.6h-0.9zM142.61 250.23h0.9v1.6h-0.9zM64.91 252.02h1.3v1.75h-1.3zM75.95 252.02h1.3v1.75h-1.3zM97.9 252.02h1.3v1.75h-1.3zM104.57 252.02h1.3v1.75h-1.3zM117.46 252.02h1.3v1.75h-1.3zM120.35 252.1h0.8v1.6h-0.8zM126.68 252.02h1.3v1.75h-1.3zM150.75 252.02h1.3v1.75h-1.3zM153.62 252.1h0.8v1.6h-0.8zM184.1 252.02h1.3v1.75h-1.3zM190.22 252.02h1.3v1.75h-1.3zM187.44 252.02h1.3v1.75h-1.3zM76.51 252.1h0.9v1.6h-0.9zM156.34 252.1h0.9v1.6h-0.9zM166.05 252.1h0.9v1.6h-0.9zM49.93 253.89h1.3v1.75h-1.3zM64.99 253.89h1.3v1.75h-1.3zM76.31 253.89h1.3v1.75h-1.3zM82.92 253.89h1.3v1.75h-1.3zM89.65 253.89h1.3v1.75h-1.3zM98.05 253.89h1.3v1.75h-1.3zM104.54 253.89h1.3v1.75h-1.3zM117.71 253.89h1.3v1.75h-1.3zM121.09 253.97h0.8v1.6h-0.8zM126.62 253.89h1.3v1.75h-1.3zM128.32 253.97h0.8v1.6h-0.8zM146.41 253.89h1.3v1.75h-1.3zM155.9 253.89h1.3v1.75h-1.3zM170.62 253.89h1.3v1.75h-1.3zM183.88 253.89h1.3v1.75h-1.3zM129.54 253.89h1.3v1.75h-1.3zM187.17 253.89h1.3v1.75h-1.3zM199.19 253.89h1.3v1.75h-1.3zM208.25 253.89h1.3v1.75h-1.3zM211.61 253.89h1.3v1.75h-1.3zM46.75 253.97h0.9v1.6h-0.9zM65.59 253.97h0.9v1.6h-0.9zM68.69 253.97h0.9v1.6h-0.9zM72.9 253.97h0.9v1.6h-0.9zM84.26 253.97h0.9v1.6h-0.9zM148.3 253.97h0.9v1.6h-0.9zM204.35 253.97h0.9v1.6h-0.9zM50.1 255.76h1.3v1.75h-1.3zM64.89 255.76h1.3v1.75h-1.3zM76.12 255.76h1.3v1.75h-1.3zM78.14 255.84h0.8v1.6h-0.8zM82.75 255.76h1.3v1.75h-1.3zM89.18 255.76h1.3v1.75h-1.3zM110.44 255.76h1.3v1.75h-1.3zM117.46 255.76h1.3v1.75h-1.3zM120.55 255.84h0.8v1.6h-0.8zM126.45 255.76h1.3v1.75h-1.3zM140.6 255.76h1.3v1.75h-1.3zM151.27 255.76h1.3v1.75h-1.3zM153.21 255.84h0.8v1.6h-0.8zM163.67 255.76h1.3v1.75h-1.3zM184.15 255.76h1.3v1.75h-1.3zM190.48 255.76h1.3v1.75h-1.3zM215.13 255.76h1.3v1.75h-1.3zM144.18 255.76h1.3v1.75h-1.3zM187.36 255.76h1.3v1.75h-1.3zM198.86 255.76h1.3v1.75h-1.3zM207.99 255.76h1.3v1.75h-1.3zM74.58 255.84h0.9v1.6h-0.9zM109.26 255.84h0.9v1.6h-0.9zM128.7 255.84h0.9v1.6h-0.9zM146.57 255.84h0.9v1.6h-0.9zM158.63 255.84h0.9v1.6h-0.9zM178.69 255.84h0.9v1.6h-0.9zM215.34 255.84h0.9v1.6h-0.9zM50.18 257.63h1.3v1.75h-1.3zM52.53 257.71h0.8v1.6h-0.8zM64.57 257.63h1.3v1.75h-1.3zM67.77 257.71h0.8v1.6h-0.8zM76.35 257.63h1.3v1.75h-1.3zM89.54 257.63h1.3v1.75h-1.3zM93.47 257.71h0.8v1.6h-0.8zM104.36 257.63h1.3v1.75h-1.3zM109.84 257.63h1.3v1.75h-1.3zM117.62 257.63h1.3v1.75h-1.3zM126.82 257.63h1.3v1.75h-1.3zM140.35 257.63h1.3v1.75h-1.3zM146.63 257.63h1.3v1.75h-1.3zM155.81 257.63h1.3v1.75h-1.3zM163.47 257.63h1.3v1.75h-1.3zM170.62 257.63h1.3v1.75h-1.3zM184.09 257.63h1.3v1.75h-1.3zM203 257.63h1.3v1.75h-1.3zM42.47 257.71h0.9v1.6h-0.9zM47.85 257.71h0.9v1.6h-0.9zM59.77 257.71h0.9v1.6h-0.9zM136.79 257.71h0.9v1.6h-0.9zM149.76 257.71h0.9v1.6h-0.9zM50.34 259.5h1.3v1.75h-1.3zM49.49 259.58h3.36v1.6h-3.36zM64.77 259.5h1.3v1.75h-1.3zM63.92 259.58h3.52v1.6h-3.52zM76.15 259.5h1.3v1.75h-1.3zM75.3 259.58h3.12v1.6h-3.12zM89.39 259.5h1.3v1.75h-1.3zM88.54 259.58h3.79v1.6h-3.79zM98.09 259.5h1.3v1.75h-1.3zM100.17 259.58h0.8v1.6h-0.8zM97.24 259.58h3.33v1.6h-3.33zM104.38 259.5h1.3v1.75h-1.3zM110.22 259.5h1.3v1.75h-1.3zM109.37 259.58h3.16v1.6h-3.16zM117.32 259.5h1.3v1.75h-1.3zM116.47 259.58h3.99v1.6h-3.99zM126.58 259.5h1.3v1.75h-1.3zM125.73 259.58h3.94v1.6h-3.94zM146.56 259.5h1.3v1.75h-1.3zM148.05 259.58h0.8v1.6h-0.8zM151 259.5h1.3v1.75h-1.3zM184.07 259.5h1.3v1.75h-1.3zM190.57 259.5h1.3v1.75h-1.3zM144.12 259.5h1.3v1.75h-1.3zM187.24 259.5h1.3v1.75h-1.3zM195.36 259.5h1.3v1.75h-1.3zM199.06 259.5h1.3v1.75h-1.3zM202.51 259.58h0.8v1.6h-0.8zM198.21 259.58h3.33v1.6h-3.33zM203 259.5h1.3v1.75h-1.3zM78.09 259.58h0.9v1.6h-0.9zM113.56 259.58h0.9v1.6h-0.9zM117.27 259.58h0.9v1.6h-0.9zM138.52 259.58h0.9v1.6h-0.9zM154.73 259.58h0.9v1.6h-0.9zM202.86 259.58h0.9v1.6h-0.9zM207.28 259.58h0.9v1.6h-0.9zM213.72 259.58h0.9v1.6h-0.9zM64.71 261.38h1.3v1.75h-1.3zM76.28 261.38h1.3v1.75h-1.3zM75.43 261.45h2.92v1.6h-2.92zM110.04 261.38h1.3v1.75h-1.3zM117.46 261.38h1.3v1.75h-1.3zM116.61 261.45h2.59v1.6h-2.59zM126.55 261.38h1.3v1.75h-1.3zM125.7 261.45h2.87v1.6h-2.87zM136 261.38h1.3v1.75h-1.3zM146.62 261.38h1.3v1.75h-1.3zM148.82 261.45h0.8v1.6h-0.8zM145.77 261.45h3.59v1.6h-3.59zM175.44 261.38h1.3v1.75h-1.3zM184.13 261.38h1.3v1.75h-1.3zM183.28 261.45h3.23v1.6h-3.23zM129.44 261.38h1.3v1.75h-1.3zM144.19 261.38h1.3v1.75h-1.3zM203.02 261.38h1.3v1.75h-1.3zM202.17 261.45h3.71v1.6h-3.71zM42.96 261.45h0.9v1.6h-0.9zM83.32 261.45h0.9v1.6h-0.9zM88.28 261.45h0.9v1.6h-0.9zM127.76 261.45h0.9v1.6h-0.9zM44.97 263.25h1.3v1.75h-1.3zM48.05 263.32h0.8v1.6h-0.8zM50.26 263.25h1.3v1.75h-1.3zM49.41 263.32h2.54v1.6h-2.54zM59.54 263.25h1.3v1.75h-1.3zM65 263.25h1.3v1.75h-1.3zM66.89 263.32h0.8v1.6h-0.8zM83.07 263.25h1.3v1.75h-1.3zM117.4 263.25h1.3v1.75h-1.3zM116.55 263.32h3.1v1.6h-3.1zM136.34 263.25h1.3v1.75h-1.3zM144.09 263.25h1.3v1.75h-1.3zM62.18 263.32h0.9v1.6h-0.9zM98.36 263.32h0.9v1.6h-0.9zM183.13 263.32h0.9v1.6h-0.9zM183.36 263.32h0.9v1.6h-0.9zM217.37 263.32h0.9v1.6h-0.9zM59.51 265.12h1.3v1.75h-1.3zM76.07 265.12h1.3v1.75h-1.3zM98.33 265.12h1.3v1.75h-1.3zM104.34 265.12h1.3v1.75h-1.3zM110.25 265.12h1.3v1.75h-1.3zM126.57 265.12h1.3v1.75h-1.3zM136.06 265.12h1.3v1.75h-1.3zM140.34 265.12h1.3v1.75h-1.3zM146.37 265.12h1.3v1.75h-1.3zM183.94 265.12h1.3v1.75h-1.3zM186.42 265.19h0.8v1.6h-0.8zM129.41 265.12h1.3v1.75h-1.3zM60.82 265.19h0.9v1.6h-0.9zM120.35 265.19h0.9v1.6h-0.9zM136.17 265.19h0.9v1.6h-0.9zM138.22 265.19h0.9v1.6h-0.9zM177.63 265.19h0.9v1.6h-0.9zM50.26 266.99h1.3v1.75h-1.3zM64.85 266.99h1.3v1.75h-1.3zM76.05 266.99h1.3v1.75h-1.3zM104.42 266.99h1.3v1.75h-1.3zM110.39 266.99h1.3v1.75h-1.3zM117.46 266.99h1.3v1.75h-1.3zM126.87 266.99h1.3v1.75h-1.3zM156.02 266.99h1.3v1.75h-1.3zM183.74 266.99h1.3v1.75h-1.3zM190.54 266.99h1.3v1.75h-1.3zM192.25 267.06h0.8v1.6h-0.8zM194.9 266.99h1.3v1.75h-1.3zM53.9 267.06h0.9v1.6h-0.9zM61.75 267.06h0.9v1.6h-0.9zM88.2 267.06h0.9v1.6h-0.9zM180.25 267.06h0.9v1.6h-0.9zM50.46 268.86h1.3v1.75h-1.3zM89.37 268.86h1.3v1.75h-1.3zM104.28 268.86h1.3v1.75h-1.3zM110.28 268.86h1.3v1.75h-1.3zM117.49 268.86h1.3v1.75h-1.3zM140.29 268.86h1.3v1.75h-1.3zM159.2 268.86h1.3v1.75h-1.3zM170.87 268.86h1.3v1.75h-1.3zM144.17 268.86h1.3v1.75h-1.3zM208.31 268.86h1.3v1.75h-1.3zM50.21 270.73h1.3v1.75h-1.3zM76.37 270.73h1.3v1.75h-1.3zM98.09 270.73h1.3v1.75h-1.3zM117.21 270.73h1.3v1.75h-1.3zM126.75 270.73h1.3v1.75h-1.3zM136.09 270.73h1.3v1.75h-1.3zM140.31 270.73h1.3v1.75h-1.3zM184.04 270.73h1.3v1.75h-1.3zM187.45 270.8h0.8v1.6h-0.8zM198.86 270.73h1.3v1.75h-1.3zM73.08 270.8h0.9v1.6h-0.9zM152.38 270.8h0.9v1.6h-0.9zM191.44 270.8h0.9v1.6h-0.9zM59.59 272.59h1.3v1.75h-1.3zM89.38 272.59h1.3v1.75h-1.3zM104.15 272.59h1.3v1.75h-1.3zM117.58 272.59h1.3v1.75h-1.3zM121.26 272.67h0.8v1.6h-0.8zM136.08 272.59h1.3v1.75h-1.3zM146.53 272.59h1.3v1.75h-1.3zM155.67 272.59h1.3v1.75h-1.3zM163.89 272.59h1.3v1.75h-1.3zM175.29 272.59h1.3v1.75h-1.3zM183.93 272.59h1.3v1.75h-1.3zM190.28 272.59h1.3v1.75h-1.3zM215.34 272.59h1.3v1.75h-1.3zM195.47 272.59h1.3v1.75h-1.3zM211.94 272.59h1.3v1.75h-1.3zM81.43 272.67h0.9v1.6h-0.9zM135.82 272.67h0.9v1.6h-0.9zM149.96 272.67h0.9v1.6h-0.9zM191.04 272.67h0.9v1.6h-0.9zM207.09 272.67h0.9v1.6h-0.9zM59.56 274.46h1.3v1.75h-1.3zM65.05 274.46h1.3v1.75h-1.3zM89.51 274.46h1.3v1.75h-1.3zM97.89 274.46h1.3v1.75h-1.3zM117.56 274.46h1.3v1.75h-1.3zM126.89 274.46h1.3v1.75h-1.3zM128.84 274.54h0.8v1.6h-0.8zM135.85 274.46h1.3v1.75h-1.3zM215.71 274.46h1.3v1.75h-1.3zM144.39 274.46h1.3v1.75h-1.3zM187.24 274.46h1.3v1.75h-1.3zM128.58 274.54h0.9v1.6h-0.9zM45.61 276.33h1.3v1.75h-1.3zM64.8 276.33h1.3v1.75h-1.3zM75.92 276.33h1.3v1.75h-1.3zM89.47 276.33h1.3v1.75h-1.3zM126.84 276.33h1.3v1.75h-1.3zM155.86 276.33h1.3v1.75h-1.3zM159.56 276.33h1.3v1.75h-1.3zM184.13 276.33h1.3v1.75h-1.3zM129.32 276.33h1.3v1.75h-1.3zM195.53 276.33h1.3v1.75h-1.3zM198.95 276.33h1.3v1.75h-1.3zM157.42 276.41h0.9v1.6h-0.9zM117.46 278.2h1.3v1.75h-1.3zM190.47 278.2h1.3v1.75h-1.3zM198.71 278.2h1.3v1.75h-1.3zM60.47 278.28h0.9v1.6h-0.9zM88.77 278.28h0.9v1.6h-0.9zM115.47 278.28h0.9v1.6h-0.9zM89.2 280.07h1.3v1.75h-1.3zM104.32 280.07h1.3v1.75h-1.3zM117.54 280.07h1.3v1.75h-1.3zM119.74 280.15h0.8v1.6h-0.8zM50.06 281.94h1.3v1.75h-1.3zM59.64 281.94h1.3v1.75h-1.3zM76.08 281.94h1.3v1.75h-1.3zM78.9 282.02h0.8v1.6h-0.8zM110.17 281.94h1.3v1.75h-1.3zM195.5 281.94h1.3v1.75h-1.3zM117.33 283.81h1.3v1.75h-1.3zM119.34 283.89h0.8v1.6h-0.8zM126.48 283.81h1.3v1.75h-1.3zM155.82 283.81h1.3v1.75h-1.3zM163.64 283.81h1.3v1.75h-1.3zM179.38 283.81h1.3v1.75h-1.3zM211.57 283.81h1.3v1.75h-1.3zM63.15 283.89h0.9v1.6h-0.9zM44 269.08h7.38v1.3h-7.38zM52.33 269.08h2.8v1.3h-2.8zM57.12 269.08h5.64v1.3h-5.64zM64.38 269.08h6.28v1.3h-6.28zM100.19 269.08h8.15v1.3h-8.15zM117.42 269.08h4.1v1.3h-4.1zM122.98 269.08h2.66v1.3h-2.66zM147.47 269.08h3.92v1.3h-3.92zM153.01 269.08h2.15v1.3h-2.15zM157.73 269.08h8.45v1.3h-8.45zM178.33 269.08h5.72v1.3h-5.72zM186.51 269.08h4.2v1.3h-4.2zM199.12 269.08h5.72v1.3h-5.72zM206.71 269.08h8.57v1.3h-8.57z" fill="#000"/>
<line x1="41.5" y1="230.2" x2="41.5" y2="286.6" stroke="#111" stroke-width="0.8"/>
<path d="M37.5 234.2h4.1M37.5 236.07h4.1M37.5 237.94h4.1M37.5 239.81h4.1M37.5 241.68h4.1M37.5 243.55h4.1M37.5 245.42h4.1M37.5 247.29h4.1M37.5 249.16h4.1M37.5 251.03h4.1M37.5 252.9h4.1M37.5 254.77h4.1M37.5 256.64h4.1M37.5 258.51h4.1M37.5 260.38h4.1M37.5 262.25h4.1M37.5 264.12h4.1M37.5 265.99h4.1M37.5 267.86h4.1M37.5 269.73h4.1M37.5 271.6h4.1M37.5 273.47h4.1M37.5 275.34h4.1M37.5 277.21h4.1M37.5 279.08h4.1M37.5 280.95h4.1M37.5 282.82h4.1M37.5 284.69h4.1" stroke="#333" stroke-width="0.75" fill="none"/>
<line x1="41.5" y1="286.6" x2="219.9" y2="286.6" stroke="#111" stroke-width="0.8"/>
<path d="M41.6 286.6v3.5M44.57 286.6v2.9M47.54 286.6v2.9M50.52 286.6v2.9M53.49 286.6v2.9M56.46 286.6v2.9M59.43 286.6v2.9M62.4 286.6v2.9M65.37 286.6v2.9M68.34 286.6v2.9M71.32 286.6v3.5M74.29 286.6v2.9M77.26 286.6v2.9M80.23 286.6v2.9M83.2 286.6v2.9M86.18 286.6v2.9M89.15 286.6v2.9M92.12 286.6v2.9M95.09 286.6v2.9M98.06 286.6v2.9M101.03 286.6v3.5M104 286.6v2.9M106.98 286.6v2.9M109.95 286.6v2.9M112.92 286.6v2.9M115.89 286.6v2.9M118.86 286.6v2.9M121.84 286.6v2.9M124.81 286.6v2.9M127.78 286.6v2.9M130.75 286.6v3.5M133.72 286.6v2.9M136.69 286.6v2.9M139.67 286.6v2.9M142.64 286.6v2.9M145.61 286.6v2.9M148.58 286.6v2.9M151.55 286.6v2.9M154.52 286.6v2.9M157.5 286.6v2.9M160.47 286.6v3.5M163.44 286.6v2.9M166.41 286.6v2.9M169.38 286.6v2.9M172.35 286.6v2.9M175.33 286.6v2.9M178.3 286.6v2.9M181.27 286.6v2.9M184.24 286.6v2.9M187.21 286.6v2.9M190.18 286.6v3.5M193.16 286.6v2.9M196.13 286.6v2.9M199.1 286.6v2.9M202.07 286.6v2.9M205.04 286.6v2.9M208.01 286.6v2.9M210.99 286.6v2.9M213.96 286.6v2.9M216.93 286.6v2.9M219.9 286.6v3.5" stroke="#111" stroke-width="0.65" fill="none"/>
<text x="41.6" y="297" font-size="6.3" text-anchor="middle" stroke="#1c1c1c" stroke-width="0.18">0</text>
<text x="71.32" y="297" font-size="6.3" text-anchor="middle" stroke="#1c1c1c" stroke-width="0.18">20</text>
<text x="101.03" y="297" font-size="6.3" text-anchor="middle" stroke="#1c1c1c" stroke-width="0.18">40</text>
<text x="130.75" y="297" font-size="6.3" text-anchor="middle" stroke="#1c1c1c" stroke-width="0.18">60</text>
<text x="160.47" y="297" font-size="6.3" text-anchor="middle" stroke="#1c1c1c" stroke-width="0.18">80</text>
<text x="190.18" y="297" font-size="6.3" text-anchor="middle" stroke="#1c1c1c" stroke-width="0.18">100</text>
<text x="219.9" y="297" font-size="6.3" text-anchor="middle" stroke="#1c1c1c" stroke-width="0.18">120</text>
<text x="132.9" y="306.3" font-size="7.2" text-anchor="middle" stroke="#1c1c1c" stroke-width="0.18">Time (s)</text>
<text x="32" y="258.8" font-size="6.6" text-anchor="middle" stroke="#1c1c1c" stroke-width="0.18" transform="rotate(-90 32 258.8)">Firing per neuron</text>
<line x1="284.4" y1="31.2" x2="284.4" y2="116.8" stroke="#111" stroke-width="0.95"/>
<path d="M281.8 116.35h2.6M282.8 107.88h1.6M281.8 99.4h2.6M282.8 90.92h1.6M281.8 82.45h2.6M282.8 73.97h1.6M281.8 65.5h2.6M282.8 57.02h1.6M281.8 48.55h2.6M282.8 40.08h1.6M281.8 31.6h2.6" stroke="#111" stroke-width="0.7" fill="none"/>
<text x="280.3" y="118.85" font-size="8.3" text-anchor="end" stroke="#1c1c1c" stroke-width="0.2">0.0</text>
<text x="280.3" y="101.9" font-size="8.3" text-anchor="end" stroke="#1c1c1c" stroke-width="0.2">0.4</text>
<text x="280.3" y="84.95" font-size="8.3" text-anchor="end" stroke="#1c1c1c" stroke-width="0.2">0.8</text>
<text x="280.3" y="68" font-size="8.3" text-anchor="end" stroke="#1c1c1c" stroke-width="0.2">1.2</text>
<text x="280.3" y="51.05" font-size="8.3" text-anchor="end" stroke="#1c1c1c" stroke-width="0.2">1.6</text>
<text x="280.3" y="34.1" font-size="8.3" text-anchor="end" stroke="#1c1c1c" stroke-width="0.2">2.0</text>
<line x1="281.8" y1="116.35" x2="363.4" y2="116.35" stroke="#111" stroke-width="0.95"/>
<rect x="287.05" y="91.4" width="15.75" height="24.95" fill="#000"/>
<line x1="294.93" y1="116.35" x2="294.93" y2="119.45" stroke="#111" stroke-width="0.85"/>
<rect x="305" y="88.85" width="15.55" height="27.5" fill="#ff2a00" stroke="#111" stroke-width="0.7"/>
<line x1="312.77" y1="116.35" x2="312.77" y2="119.45" stroke="#111" stroke-width="0.85"/>
<rect x="327.05" y="73.1" width="15.55" height="43.25" fill="#000"/>
<line x1="334.83" y1="116.35" x2="334.83" y2="119.45" stroke="#111" stroke-width="0.85"/>
<rect x="344.85" y="70.15" width="14.85" height="46.2" fill="#ff2a00" stroke="#111" stroke-width="0.7"/>
<line x1="352.27" y1="116.35" x2="352.27" y2="119.45" stroke="#111" stroke-width="0.85"/>
<line x1="352.3" y1="64.5" x2="352.3" y2="69.8" stroke="#999" stroke-width="0.7"/>
<line x1="348.4" y1="64.5" x2="356.2" y2="64.5" stroke="#999" stroke-width="0.75"/>
<line x1="336.3" y1="68.9" x2="336.3" y2="73.1" stroke="#999" stroke-width="0.7"/>
<line x1="332.4" y1="68.9" x2="340.2" y2="68.9" stroke="#999" stroke-width="0.75"/>
<circle cx="294.4" cy="86.9" r="1.45" fill="#fff" stroke="#000" stroke-width="0.65"/>
<circle cx="296.8" cy="85.8" r="1.45" fill="#fff" stroke="#000" stroke-width="0.65"/>
<circle cx="288.4" cy="91.9" r="1.45" fill="#fff" stroke="#000" stroke-width="0.65"/>
<circle cx="291.3" cy="92.7" r="1.45" fill="#fff" stroke="#000" stroke-width="0.65"/>
<circle cx="293.9" cy="94" r="1.45" fill="#fff" stroke="#000" stroke-width="0.65"/>
<circle cx="296.5" cy="93.7" r="1.45" fill="#fff" stroke="#000" stroke-width="0.65"/>
<circle cx="298.6" cy="90.6" r="1.45" fill="#fff" stroke="#000" stroke-width="0.65"/>
<circle cx="299.4" cy="94.2" r="1.45" fill="#fff" stroke="#000" stroke-width="0.65"/>
<circle cx="301.8" cy="92.4" r="1.45" fill="#fff" stroke="#000" stroke-width="0.65"/>
<circle cx="295.2" cy="98.4" r="1.45" fill="#fff" stroke="#000" stroke-width="0.65"/>
<circle cx="312.5" cy="76.6" r="1.45" fill="#fff" stroke="#000" stroke-width="0.65"/>
<circle cx="309.1" cy="85.3" r="1.45" fill="#fff" stroke="#000" stroke-width="0.65"/>
<circle cx="312.3" cy="85.3" r="1.45" fill="#fff" stroke="#000" stroke-width="0.65"/>
<circle cx="315.4" cy="85.3" r="1.45" fill="#fff" stroke="#000" stroke-width="0.65"/>
<circle cx="306.2" cy="90.8" r="1.45" fill="#fff" stroke="#000" stroke-width="0.65"/>
<circle cx="309.1" cy="90.6" r="1.45" fill="#fff" stroke="#000" stroke-width="0.65"/>
<circle cx="312.8" cy="92.9" r="1.45" fill="#fff" stroke="#000" stroke-width="0.65"/>
<circle cx="316" cy="92.4" r="1.45" fill="#fff" stroke="#000" stroke-width="0.65"/>
<circle cx="319.1" cy="90.8" r="1.45" fill="#fff" stroke="#000" stroke-width="0.65"/>
<circle cx="312.5" cy="97.1" r="1.45" fill="#fff" stroke="#000" stroke-width="0.65"/>
<circle cx="334.8" cy="50" r="1.45" fill="#fff" stroke="#000" stroke-width="0.65"/>
<circle cx="334.8" cy="57.3" r="1.45" fill="#fff" stroke="#000" stroke-width="0.65"/>
<circle cx="332" cy="67" r="1.45" fill="#fff" stroke="#000" stroke-width="0.65"/>
<circle cx="337.6" cy="66.2" r="1.45" fill="#fff" stroke="#000" stroke-width="0.65"/>
<circle cx="334.8" cy="71.7" r="1.45" fill="#fff" stroke="#000" stroke-width="0.65"/>
<circle cx="332" cy="76.7" r="1.45" fill="#fff" stroke="#000" stroke-width="0.65"/>
<circle cx="337.6" cy="79.2" r="1.45" fill="#fff" stroke="#000" stroke-width="0.65"/>
<circle cx="334.8" cy="83.4" r="1.45" fill="#fff" stroke="#000" stroke-width="0.65"/>
<circle cx="334.8" cy="87" r="1.45" fill="#fff" stroke="#000" stroke-width="0.65"/>
<circle cx="334.8" cy="91.8" r="1.45" fill="#fff" stroke="#000" stroke-width="0.65"/>
<circle cx="352.2" cy="33.9" r="1.45" fill="#fff" stroke="#000" stroke-width="0.65"/>
<circle cx="352.2" cy="52.1" r="1.45" fill="#fff" stroke="#000" stroke-width="0.65"/>
<circle cx="345.6" cy="68.7" r="1.45" fill="#fff" stroke="#000" stroke-width="0.65"/>
<circle cx="352.3" cy="66.4" r="1.45" fill="#fff" stroke="#000" stroke-width="0.65"/>
<circle cx="352.3" cy="70" r="1.45" fill="#fff" stroke="#000" stroke-width="0.65"/>
<circle cx="358.9" cy="67.3" r="1.45" fill="#fff" stroke="#000" stroke-width="0.65"/>
<circle cx="345.9" cy="75" r="1.45" fill="#fff" stroke="#000" stroke-width="0.65"/>
<circle cx="352.3" cy="75.6" r="1.45" fill="#fff" stroke="#000" stroke-width="0.65"/>
<circle cx="349.1" cy="82.8" r="1.45" fill="#fff" stroke="#000" stroke-width="0.65"/>
<circle cx="356" cy="82.8" r="1.45" fill="#fff" stroke="#000" stroke-width="0.65"/>
<circle cx="352.2" cy="89.7" r="1.45" fill="#fff" stroke="#000" stroke-width="0.65"/>
<path d="M293.8 70.5V67.4H312.6V70.5" stroke="#111" stroke-width="0.7" fill="none"/>
<text x="303.1" y="64.3" font-size="8.2" text-anchor="middle" stroke="#1c1c1c" stroke-width="0.2">ns</text>
<path d="M334.3 31.2V27.6H352.6V31.2" stroke="#111" stroke-width="0.7" fill="none"/>
<text x="343.1" y="24.7" font-size="8.2" text-anchor="middle" stroke="#1c1c1c" stroke-width="0.2">ns</text>
<text x="297.53" y="126.25" font-size="8.7" text-anchor="end" stroke="#1c1c1c" stroke-width="0.2" transform="rotate(-45 297.53 126.25)">Neurotypical</text>
<text x="315.38" y="126.25" font-size="8.7" text-anchor="end" stroke="#1c1c1c" stroke-width="0.2" transform="rotate(-45 315.38 126.25)">MPSIIIA</text>
<text x="337.43" y="126.25" font-size="8.7" text-anchor="end" stroke="#1c1c1c" stroke-width="0.2" transform="rotate(-45 337.43 126.25)">Neurotypical</text>
<text x="354.88" y="126.25" font-size="8.7" text-anchor="end" stroke="#1c1c1c" stroke-width="0.2" transform="rotate(-45 354.88 126.25)">MPSIIIA</text>
<text x="302.1" y="169.4" font-size="7.2" text-anchor="middle" font-style="italic" fill="#9a9a9a" stroke="#9a9a9a" stroke-width="0.18">30-50 days</text>
<text x="344" y="169.4" font-size="7.2" text-anchor="middle" font-style="italic" fill="#9a9a9a" stroke="#9a9a9a" stroke-width="0.18">55-70 days</text>
<text x="255.2" y="72.2" font-size="8.2" text-anchor="middle" stroke="#1c1c1c" stroke-width="0.2" textLength="77" lengthAdjust="spacingAndGlyphs" transform="rotate(-90 255.2 72.2)">Firing rate per active</text>
<text x="263.9" y="71.8" font-size="8.2" text-anchor="middle" stroke="#1c1c1c" stroke-width="0.2" textLength="45" lengthAdjust="spacingAndGlyphs" transform="rotate(-90 263.9 71.8)">neuron (Hz)</text>
<line x1="438.6" y1="29" x2="438.6" y2="116.1" stroke="#111" stroke-width="0.95"/>
<path d="M436 115.7h2.6M437 107.07h1.6M436 98.44h2.6M437 89.81h1.6M436 81.18h2.6M437 72.55h1.6M436 63.92h2.6M437 55.29h1.6M436 46.66h2.6M437 38.03h1.6M436 29.4h2.6" stroke="#111" stroke-width="0.7" fill="none"/>
<text x="434.5" y="118.2" font-size="8.3" text-anchor="end" stroke="#1c1c1c" stroke-width="0.2">0.00</text>
<text x="434.5" y="100.94" font-size="8.3" text-anchor="end" stroke="#1c1c1c" stroke-width="0.2">0.02</text>
<text x="434.5" y="83.68" font-size="8.3" text-anchor="end" stroke="#1c1c1c" stroke-width="0.2">0.04</text>
<text x="434.5" y="66.42" font-size="8.3" text-anchor="end" stroke="#1c1c1c" stroke-width="0.2">0.06</text>
<text x="434.5" y="49.16" font-size="8.3" text-anchor="end" stroke="#1c1c1c" stroke-width="0.2">0.08</text>
<text x="434.5" y="31.9" font-size="8.3" text-anchor="end" stroke="#1c1c1c" stroke-width="0.2">0.10</text>
<line x1="436" y1="115.7" x2="519.2" y2="115.7" stroke="#111" stroke-width="0.95"/>
<rect x="442.2" y="87.15" width="15.8" height="28.55" fill="#000"/>
<line x1="450.1" y1="115.7" x2="450.1" y2="118.8" stroke="#111" stroke-width="0.85"/>
<rect x="460.55" y="85.85" width="14.6" height="29.85" fill="#ff2a00" stroke="#111" stroke-width="0.7"/>
<line x1="467.85" y1="115.7" x2="467.85" y2="118.8" stroke="#111" stroke-width="0.85"/>
<rect x="482.5" y="69.3" width="16.1" height="46.4" fill="#000"/>
<line x1="490.55" y1="115.7" x2="490.55" y2="118.8" stroke="#111" stroke-width="0.85"/>
<rect x="500.85" y="65.65" width="15.1" height="50.05" fill="#ff2a00" stroke="#111" stroke-width="0.7"/>
<line x1="508.4" y1="115.7" x2="508.4" y2="118.8" stroke="#111" stroke-width="0.85"/>
<line x1="450" y1="84.2" x2="450" y2="87.15" stroke="#999" stroke-width="0.7"/>
<line x1="446.1" y1="84.2" x2="453.9" y2="84.2" stroke="#999" stroke-width="0.75"/>
<line x1="468" y1="83" x2="468" y2="85.5" stroke="#999" stroke-width="0.7"/>
<line x1="464.1" y1="83" x2="471.9" y2="83" stroke="#999" stroke-width="0.75"/>
<line x1="490.5" y1="64.3" x2="490.5" y2="69.3" stroke="#000" stroke-width="0.7"/>
<line x1="486.6" y1="64.3" x2="494.4" y2="64.3" stroke="#000" stroke-width="0.75"/>
<line x1="508.3" y1="60.3" x2="508.3" y2="65.3" stroke="#000" stroke-width="0.7"/>
<line x1="504.4" y1="60.3" x2="512.2" y2="60.3" stroke="#000" stroke-width="0.75"/>
<circle cx="448.1" cy="72.9" r="1.45" fill="#fff" stroke="#000" stroke-width="0.65"/>
<circle cx="451.8" cy="72" r="1.45" fill="#fff" stroke="#000" stroke-width="0.65"/>
<circle cx="450" cy="81.3" r="1.45" fill="#fff" stroke="#000" stroke-width="0.65"/>
<circle cx="443.3" cy="91" r="1.45" fill="#fff" stroke="#000" stroke-width="0.65"/>
<circle cx="447.8" cy="89.9" r="1.45" fill="#fff" stroke="#000" stroke-width="0.65"/>
<circle cx="452.2" cy="91.6" r="1.45" fill="#fff" stroke="#000" stroke-width="0.65"/>
<circle cx="456.6" cy="91" r="1.45" fill="#fff" stroke="#000" stroke-width="0.65"/>
<circle cx="447.8" cy="94.9" r="1.45" fill="#fff" stroke="#000" stroke-width="0.65"/>
<circle cx="451.9" cy="94.6" r="1.45" fill="#fff" stroke="#000" stroke-width="0.65"/>
<circle cx="467.5" cy="75" r="1.45" fill="#fff" stroke="#000" stroke-width="0.65"/>
<circle cx="467.2" cy="78.3" r="1.45" fill="#fff" stroke="#000" stroke-width="0.65"/>
<circle cx="460.8" cy="82.2" r="1.45" fill="#fff" stroke="#000" stroke-width="0.65"/>
<circle cx="463.8" cy="84.7" r="1.45" fill="#fff" stroke="#000" stroke-width="0.65"/>
<circle cx="466.3" cy="83.8" r="1.45" fill="#fff" stroke="#000" stroke-width="0.65"/>
<circle cx="468.8" cy="84.4" r="1.45" fill="#fff" stroke="#000" stroke-width="0.65"/>
<circle cx="471.6" cy="84.4" r="1.45" fill="#fff" stroke="#000" stroke-width="0.65"/>
<circle cx="474.4" cy="84.7" r="1.45" fill="#fff" stroke="#000" stroke-width="0.65"/>
<circle cx="466.1" cy="87.2" r="1.45" fill="#fff" stroke="#000" stroke-width="0.65"/>
<circle cx="469.1" cy="88" r="1.45" fill="#fff" stroke="#000" stroke-width="0.65"/>
<circle cx="467.5" cy="97" r="1.45" fill="#fff" stroke="#000" stroke-width="0.65"/>
<circle cx="490.3" cy="41.5" r="1.45" fill="#fff" stroke="#000" stroke-width="0.65"/>
<circle cx="483.9" cy="59.6" r="1.45" fill="#fff" stroke="#000" stroke-width="0.65"/>
<circle cx="490.3" cy="60.7" r="1.45" fill="#fff" stroke="#000" stroke-width="0.65"/>
<circle cx="497.2" cy="58.8" r="1.45" fill="#fff" stroke="#000" stroke-width="0.65"/>
<circle cx="483.9" cy="65.2" r="1.45" fill="#fff" stroke="#000" stroke-width="0.65"/>
<circle cx="490.3" cy="67.4" r="1.45" fill="#fff" stroke="#000" stroke-width="0.65"/>
<circle cx="490.2" cy="78.1" r="1.45" fill="#fff" stroke="#000" stroke-width="0.65"/>
<circle cx="483.8" cy="88.3" r="1.45" fill="#fff" stroke="#000" stroke-width="0.65"/>
<circle cx="490.2" cy="86" r="1.45" fill="#fff" stroke="#000" stroke-width="0.65"/>
<circle cx="496.8" cy="86" r="1.45" fill="#fff" stroke="#000" stroke-width="0.65"/>
<circle cx="505.6" cy="42.4" r="1.45" fill="#fff" stroke="#000" stroke-width="0.65"/>
<circle cx="511.2" cy="41.2" r="1.45" fill="#fff" stroke="#000" stroke-width="0.65"/>
<circle cx="505.5" cy="56.8" r="1.45" fill="#fff" stroke="#000" stroke-width="0.65"/>
<circle cx="511.2" cy="54.9" r="1.45" fill="#fff" stroke="#000" stroke-width="0.65"/>
<circle cx="508.3" cy="61.8" r="1.45" fill="#fff" stroke="#000" stroke-width="0.65"/>
<circle cx="508.3" cy="67.9" r="1.45" fill="#fff" stroke="#000" stroke-width="0.65"/>
<circle cx="505.5" cy="71.8" r="1.45" fill="#fff" stroke="#000" stroke-width="0.65"/>
<circle cx="511.1" cy="72.6" r="1.45" fill="#fff" stroke="#000" stroke-width="0.65"/>
<circle cx="506.1" cy="77.3" r="1.45" fill="#fff" stroke="#000" stroke-width="0.65"/>
<circle cx="511.1" cy="77.3" r="1.45" fill="#fff" stroke="#000" stroke-width="0.65"/>
<circle cx="507.6" cy="86.8" r="1.45" fill="#fff" stroke="#000" stroke-width="0.65"/>
<path d="M449.8 64.3V60.6H468.6V64.3" stroke="#111" stroke-width="0.7" fill="none"/>
<text x="459.6" y="57.9" font-size="8.2" text-anchor="middle" stroke="#1c1c1c" stroke-width="0.2">ns</text>
<path d="M489.9 34.6V30.5H508.7V34.6" stroke="#111" stroke-width="0.7" fill="none"/>
<text x="499.4" y="27.5" font-size="8.2" text-anchor="middle" stroke="#1c1c1c" stroke-width="0.2">ns</text>
<text x="452.7" y="125.6" font-size="8.7" text-anchor="end" stroke="#1c1c1c" stroke-width="0.2" transform="rotate(-45 452.7 125.6)">Neurotypical</text>
<text x="470.45" y="125.6" font-size="8.7" text-anchor="end" stroke="#1c1c1c" stroke-width="0.2" transform="rotate(-45 470.45 125.6)">MPSIIIA</text>
<text x="493.15" y="125.6" font-size="8.7" text-anchor="end" stroke="#1c1c1c" stroke-width="0.2" transform="rotate(-45 493.15 125.6)">Neurotypical</text>
<text x="511" y="125.6" font-size="8.7" text-anchor="end" stroke="#1c1c1c" stroke-width="0.2" transform="rotate(-45 511 125.6)">MPSIIIA</text>
<text x="456.9" y="170.4" font-size="7.2" text-anchor="middle" font-style="italic" fill="#9a9a9a" stroke="#9a9a9a" stroke-width="0.18">30-50 days</text>
<text x="499.9" y="170.4" font-size="7.2" text-anchor="middle" font-style="italic" fill="#9a9a9a" stroke="#9a9a9a" stroke-width="0.18">55-70 days</text>
<text x="414" y="71.5" font-size="8.2" text-anchor="middle" stroke="#1c1c1c" stroke-width="0.2" textLength="78" lengthAdjust="spacingAndGlyphs" transform="rotate(-90 414 71.5)">Burst frequency (Hz)</text>
<line x1="595" y1="28.8" x2="595" y2="115.8" stroke="#111" stroke-width="0.95"/>
<path d="M592.4 115.4h2.6M593.4 106.78h1.6M592.4 98.16h2.6M593.4 89.54h1.6M592.4 80.92h2.6M593.4 72.3h1.6M592.4 63.68h2.6M593.4 55.06h1.6M592.4 46.44h2.6M593.4 37.82h1.6M592.4 29.2h2.6" stroke="#111" stroke-width="0.7" fill="none"/>
<text x="590.9" y="117.9" font-size="8.3" text-anchor="end" stroke="#1c1c1c" stroke-width="0.2">0.00</text>
<text x="590.9" y="100.66" font-size="8.3" text-anchor="end" stroke="#1c1c1c" stroke-width="0.2">0.05</text>
<text x="590.9" y="83.42" font-size="8.3" text-anchor="end" stroke="#1c1c1c" stroke-width="0.2">0.10</text>
<text x="590.9" y="66.18" font-size="8.3" text-anchor="end" stroke="#1c1c1c" stroke-width="0.2">0.15</text>
<text x="590.9" y="48.94" font-size="8.3" text-anchor="end" stroke="#1c1c1c" stroke-width="0.2">0.20</text>
<text x="590.9" y="31.7" font-size="8.3" text-anchor="end" stroke="#1c1c1c" stroke-width="0.2">0.25</text>
<line x1="592.4" y1="115.4" x2="676.5" y2="115.4" stroke="#111" stroke-width="0.95"/>
<rect x="598.2" y="108" width="16.1" height="7.4" fill="#000"/>
<line x1="606.25" y1="115.4" x2="606.25" y2="118.5" stroke="#111" stroke-width="0.85"/>
<rect x="616.55" y="107.05" width="15.4" height="8.35" fill="#ff2a00" stroke="#111" stroke-width="0.7"/>
<line x1="624.25" y1="115.4" x2="624.25" y2="118.5" stroke="#111" stroke-width="0.85"/>
<rect x="639" y="97.9" width="16" height="17.5" fill="#000"/>
<line x1="647" y1="115.4" x2="647" y2="118.5" stroke="#111" stroke-width="0.85"/>
<rect x="657.25" y="94.05" width="14.9" height="21.35" fill="#ff2a00" stroke="#111" stroke-width="0.7"/>
<line x1="664.7" y1="115.4" x2="664.7" y2="118.5" stroke="#111" stroke-width="0.85"/>
<line x1="646.9" y1="92.1" x2="646.9" y2="97.9" stroke="#999" stroke-width="0.7"/>
<line x1="643" y1="92.1" x2="650.8" y2="92.1" stroke="#999" stroke-width="0.75"/>
<line x1="664.9" y1="87.5" x2="664.9" y2="93.7" stroke="#000" stroke-width="0.7"/>
<line x1="661" y1="87.5" x2="668.8" y2="87.5" stroke="#000" stroke-width="0.75"/>
<line x1="606.4" y1="105.8" x2="606.4" y2="108" stroke="#999" stroke-width="0.7"/>
<line x1="602.5" y1="105.8" x2="610.3" y2="105.8" stroke="#999" stroke-width="0.75"/>
<line x1="624.3" y1="104.8" x2="624.3" y2="106.7" stroke="#999" stroke-width="0.7"/>
<line x1="620.4" y1="104.8" x2="628.2" y2="104.8" stroke="#999" stroke-width="0.75"/>
<circle cx="606.5" cy="92.5" r="1.45" fill="#fff" stroke="#000" stroke-width="0.65"/>
<circle cx="606.5" cy="98.8" r="1.45" fill="#fff" stroke="#000" stroke-width="0.65"/>
<circle cx="599.6" cy="111.4" r="1.45" fill="#fff" stroke="#000" stroke-width="0.65"/>
<circle cx="601.5" cy="110.3" r="1.45" fill="#fff" stroke="#000" stroke-width="0.65"/>
<circle cx="604" cy="111.1" r="1.45" fill="#fff" stroke="#000" stroke-width="0.65"/>
<circle cx="606.3" cy="110.8" r="1.45" fill="#fff" stroke="#000" stroke-width="0.65"/>
<circle cx="608.5" cy="109.7" r="1.45" fill="#fff" stroke="#000" stroke-width="0.65"/>
<circle cx="608.8" cy="112.8" r="1.45" fill="#fff" stroke="#000" stroke-width="0.65"/>
<circle cx="610.7" cy="110.5" r="1.45" fill="#fff" stroke="#000" stroke-width="0.65"/>
<circle cx="612.9" cy="112.2" r="1.45" fill="#fff" stroke="#000" stroke-width="0.65"/>
<circle cx="624.2" cy="92.2" r="1.45" fill="#fff" stroke="#000" stroke-width="0.65"/>
<circle cx="617.6" cy="108" r="1.45" fill="#fff" stroke="#000" stroke-width="0.65"/>
<circle cx="619.3" cy="110.8" r="1.45" fill="#fff" stroke="#000" stroke-width="0.65"/>
<circle cx="621.5" cy="107.2" r="1.45" fill="#fff" stroke="#000" stroke-width="0.65"/>
<circle cx="623.7" cy="107.5" r="1.45" fill="#fff" stroke="#000" stroke-width="0.65"/>
<circle cx="626" cy="107.8" r="1.45" fill="#fff" stroke="#000" stroke-width="0.65"/>
<circle cx="627.9" cy="109.2" r="1.45" fill="#fff" stroke="#000" stroke-width="0.65"/>
<circle cx="629.3" cy="107.2" r="1.45" fill="#fff" stroke="#000" stroke-width="0.65"/>
<circle cx="630.9" cy="107.2" r="1.45" fill="#fff" stroke="#000" stroke-width="0.65"/>
<circle cx="622.1" cy="110" r="1.45" fill="#fff" stroke="#000" stroke-width="0.65"/>
<circle cx="627.1" cy="111.6" r="1.45" fill="#fff" stroke="#000" stroke-width="0.65"/>
<circle cx="646.4" cy="57.3" r="1.45" fill="#fff" stroke="#000" stroke-width="0.65"/>
<circle cx="646.4" cy="65" r="1.45" fill="#fff" stroke="#000" stroke-width="0.65"/>
<circle cx="646.9" cy="103.3" r="1.45" fill="#fff" stroke="#000" stroke-width="0.65"/>
<circle cx="640.3" cy="108.8" r="1.45" fill="#fff" stroke="#000" stroke-width="0.65"/>
<circle cx="643" cy="107" r="1.45" fill="#fff" stroke="#000" stroke-width="0.65"/>
<circle cx="645.6" cy="108.2" r="1.45" fill="#fff" stroke="#000" stroke-width="0.65"/>
<circle cx="648.2" cy="107.5" r="1.45" fill="#fff" stroke="#000" stroke-width="0.65"/>
<circle cx="650.8" cy="106.2" r="1.45" fill="#fff" stroke="#000" stroke-width="0.65"/>
<circle cx="651.2" cy="109.7" r="1.45" fill="#fff" stroke="#000" stroke-width="0.65"/>
<circle cx="653.8" cy="107.9" r="1.45" fill="#fff" stroke="#000" stroke-width="0.65"/>
<circle cx="665" cy="37.7" r="1.45" fill="#fff" stroke="#000" stroke-width="0.65"/>
<circle cx="664.7" cy="82.9" r="1.45" fill="#fff" stroke="#000" stroke-width="0.65"/>
<circle cx="664.3" cy="89.7" r="1.45" fill="#fff" stroke="#000" stroke-width="0.65"/>
<circle cx="664.7" cy="97.7" r="1.45" fill="#fff" stroke="#000" stroke-width="0.65"/>
<circle cx="658.2" cy="101" r="1.45" fill="#fff" stroke="#000" stroke-width="0.65"/>
<circle cx="664.7" cy="101" r="1.45" fill="#fff" stroke="#000" stroke-width="0.65"/>
<circle cx="668.2" cy="101.8" r="1.45" fill="#fff" stroke="#000" stroke-width="0.65"/>
<circle cx="671.2" cy="101.4" r="1.45" fill="#fff" stroke="#000" stroke-width="0.65"/>
<circle cx="661.2" cy="103.6" r="1.45" fill="#fff" stroke="#000" stroke-width="0.65"/>
<circle cx="661.2" cy="106.6" r="1.45" fill="#fff" stroke="#000" stroke-width="0.65"/>
<circle cx="668.2" cy="105.3" r="1.45" fill="#fff" stroke="#000" stroke-width="0.65"/>
<path d="M605.1 81.9V78.6H623.6V81.9" stroke="#111" stroke-width="0.7" fill="none"/>
<text x="615.2" y="75.9" font-size="8.2" text-anchor="middle" stroke="#1c1c1c" stroke-width="0.2">ns</text>
<path d="M646.1 43.5V30.2H664.7V33.7" stroke="#111" stroke-width="0.7" fill="none"/>
<text x="656.5" y="27.5" font-size="8.2" text-anchor="middle" stroke="#1c1c1c" stroke-width="0.2">ns</text>
<text x="608.85" y="125.3" font-size="8.7" text-anchor="end" stroke="#1c1c1c" stroke-width="0.2" transform="rotate(-45 608.85 125.3)">Neurotypical</text>
<text x="626.85" y="125.3" font-size="8.7" text-anchor="end" stroke="#1c1c1c" stroke-width="0.2" transform="rotate(-45 626.85 125.3)">MPSIIIA</text>
<text x="649.6" y="125.3" font-size="8.7" text-anchor="end" stroke="#1c1c1c" stroke-width="0.2" transform="rotate(-45 649.6 125.3)">Neurotypical</text>
<text x="667.3" y="125.3" font-size="8.7" text-anchor="end" stroke="#1c1c1c" stroke-width="0.2" transform="rotate(-45 667.3 125.3)">MPSIIIA</text>
<text x="613.3" y="170.4" font-size="7.2" text-anchor="middle" font-style="italic" fill="#9a9a9a" stroke="#9a9a9a" stroke-width="0.18">30-50 days</text>
<text x="655.8" y="170.4" font-size="7.2" text-anchor="middle" font-style="italic" fill="#9a9a9a" stroke="#9a9a9a" stroke-width="0.18">55-70 days</text>
<text x="571" y="67.2" font-size="8" text-anchor="middle" stroke="#1c1c1c" stroke-width="0.2" textLength="105" lengthAdjust="spacingAndGlyphs" transform="rotate(-90 571 67.2)">Spike-sorted synchrony index</text>
<line x1="284.4" y1="203" x2="284.4" y2="288.9" stroke="#111" stroke-width="0.95"/>
<path d="M281.8 288.5h2.6M282.8 279.99h1.6M281.8 271.48h2.6M282.8 262.97h1.6M281.8 254.46h2.6M282.8 245.95h1.6M281.8 237.44h2.6M282.8 228.93h1.6M281.8 220.42h2.6M282.8 211.91h1.6M281.8 203.4h2.6" stroke="#111" stroke-width="0.7" fill="none"/>
<text x="280.3" y="291" font-size="8.3" text-anchor="end" stroke="#1c1c1c" stroke-width="0.2">0</text>
<text x="280.3" y="273.98" font-size="8.3" text-anchor="end" stroke="#1c1c1c" stroke-width="0.2">4</text>
<text x="280.3" y="256.96" font-size="8.3" text-anchor="end" stroke="#1c1c1c" stroke-width="0.2">8</text>
<text x="280.3" y="239.94" font-size="8.3" text-anchor="end" stroke="#1c1c1c" stroke-width="0.2">12</text>
<text x="280.3" y="222.92" font-size="8.3" text-anchor="end" stroke="#1c1c1c" stroke-width="0.2">16</text>
<text x="280.3" y="205.9" font-size="8.3" text-anchor="end" stroke="#1c1c1c" stroke-width="0.2">20</text>
<line x1="281.8" y1="288.5" x2="364.5" y2="288.5" stroke="#111" stroke-width="0.95"/>
<rect x="287.7" y="275" width="16.1" height="13.5" fill="#000"/>
<line x1="295.75" y1="288.5" x2="295.75" y2="291.6" stroke="#111" stroke-width="0.85"/>
<rect x="305.65" y="265.35" width="15" height="23.15" fill="#ff2a00" stroke="#111" stroke-width="0.7"/>
<line x1="313.15" y1="288.5" x2="313.15" y2="291.6" stroke="#111" stroke-width="0.85"/>
<rect x="327.9" y="261.9" width="16.1" height="26.6" fill="#000"/>
<line x1="335.95" y1="288.5" x2="335.95" y2="291.6" stroke="#111" stroke-width="0.85"/>
<rect x="345.45" y="246.45" width="15.2" height="42.05" fill="#ff2a00" stroke="#111" stroke-width="0.7"/>
<line x1="353.05" y1="288.5" x2="353.05" y2="291.6" stroke="#111" stroke-width="0.85"/>
<line x1="296.4" y1="272.4" x2="296.4" y2="275" stroke="#999" stroke-width="0.7"/>
<line x1="292.5" y1="272.4" x2="300.3" y2="272.4" stroke="#999" stroke-width="0.75"/>
<line x1="313.1" y1="261.2" x2="313.1" y2="265" stroke="#000" stroke-width="0.7"/>
<line x1="309.2" y1="261.2" x2="317" y2="261.2" stroke="#000" stroke-width="0.75"/>
<line x1="335.9" y1="258.4" x2="335.9" y2="261.9" stroke="#999" stroke-width="0.7"/>
<line x1="332" y1="258.4" x2="339.8" y2="258.4" stroke="#999" stroke-width="0.75"/>
<line x1="353.1" y1="240.4" x2="353.1" y2="246.1" stroke="#000" stroke-width="0.7"/>
<line x1="349.2" y1="240.4" x2="357" y2="240.4" stroke="#000" stroke-width="0.75"/>
<circle cx="295.3" cy="264" r="1.45" fill="#fff" stroke="#000" stroke-width="0.65"/>
<circle cx="293" cy="267.3" r="1.45" fill="#fff" stroke="#000" stroke-width="0.65"/>
<circle cx="297.6" cy="269.1" r="1.45" fill="#fff" stroke="#000" stroke-width="0.65"/>
<circle cx="293.4" cy="271" r="1.45" fill="#fff" stroke="#000" stroke-width="0.65"/>
<circle cx="293.4" cy="277" r="1.45" fill="#fff" stroke="#000" stroke-width="0.65"/>
<circle cx="297.6" cy="277.9" r="1.45" fill="#fff" stroke="#000" stroke-width="0.65"/>
<circle cx="288.8" cy="278.9" r="1.45" fill="#fff" stroke="#000" stroke-width="0.65"/>
<circle cx="288.8" cy="282.1" r="1.45" fill="#fff" stroke="#000" stroke-width="0.65"/>
<circle cx="297.6" cy="281.6" r="1.45" fill="#fff" stroke="#000" stroke-width="0.65"/>
<circle cx="302.2" cy="279.5" r="1.45" fill="#fff" stroke="#000" stroke-width="0.65"/>
<circle cx="313.2" cy="237" r="1.45" fill="#fff" stroke="#000" stroke-width="0.65"/>
<circle cx="312.9" cy="260.3" r="1.45" fill="#fff" stroke="#000" stroke-width="0.65"/>
<circle cx="306.9" cy="265.9" r="1.45" fill="#fff" stroke="#000" stroke-width="0.65"/>
<circle cx="319.8" cy="264" r="1.45" fill="#fff" stroke="#000" stroke-width="0.65"/>
<circle cx="319.8" cy="266.8" r="1.45" fill="#fff" stroke="#000" stroke-width="0.65"/>
<circle cx="312.9" cy="268.2" r="1.45" fill="#fff" stroke="#000" stroke-width="0.65"/>
<circle cx="312.9" cy="276.1" r="1.45" fill="#fff" stroke="#000" stroke-width="0.65"/>
<circle cx="306.9" cy="277.9" r="1.45" fill="#fff" stroke="#000" stroke-width="0.65"/>
<circle cx="319.8" cy="276.1" r="1.45" fill="#fff" stroke="#000" stroke-width="0.65"/>
<circle cx="335.4" cy="254.8" r="1.45" fill="#fff" stroke="#000" stroke-width="0.65"/>
<circle cx="328.6" cy="257.9" r="1.45" fill="#fff" stroke="#000" stroke-width="0.65"/>
<circle cx="332.8" cy="257.9" r="1.45" fill="#fff" stroke="#000" stroke-width="0.65"/>
<circle cx="336.4" cy="257.7" r="1.45" fill="#fff" stroke="#000" stroke-width="0.65"/>
<circle cx="342.2" cy="257.9" r="1.45" fill="#fff" stroke="#000" stroke-width="0.65"/>
<circle cx="338" cy="259.8" r="1.45" fill="#fff" stroke="#000" stroke-width="0.65"/>
<circle cx="333.3" cy="261" r="1.45" fill="#fff" stroke="#000" stroke-width="0.65"/>
<circle cx="333.3" cy="265.7" r="1.45" fill="#fff" stroke="#000" stroke-width="0.65"/>
<circle cx="338" cy="268.4" r="1.45" fill="#fff" stroke="#000" stroke-width="0.65"/>
<circle cx="335.4" cy="271.5" r="1.45" fill="#fff" stroke="#000" stroke-width="0.65"/>
<circle cx="353" cy="208.7" r="1.45" fill="#fff" stroke="#000" stroke-width="0.65"/>
<circle cx="353" cy="217.9" r="1.45" fill="#fff" stroke="#000" stroke-width="0.65"/>
<circle cx="351" cy="245.4" r="1.45" fill="#fff" stroke="#000" stroke-width="0.65"/>
<circle cx="355.7" cy="242.8" r="1.45" fill="#fff" stroke="#000" stroke-width="0.65"/>
<circle cx="351" cy="248.5" r="1.45" fill="#fff" stroke="#000" stroke-width="0.65"/>
<circle cx="346.7" cy="251.1" r="1.45" fill="#fff" stroke="#000" stroke-width="0.65"/>
<circle cx="351" cy="252.7" r="1.45" fill="#fff" stroke="#000" stroke-width="0.65"/>
<circle cx="355.7" cy="251.7" r="1.45" fill="#fff" stroke="#000" stroke-width="0.65"/>
<circle cx="359.9" cy="250.6" r="1.45" fill="#fff" stroke="#000" stroke-width="0.65"/>
<circle cx="351" cy="267.8" r="1.45" fill="#fff" stroke="#000" stroke-width="0.65"/>
<circle cx="355.7" cy="266.3" r="1.45" fill="#fff" stroke="#000" stroke-width="0.65"/>
<path d="M295.4 253.5V218.2H312.7V228.5" stroke="#111" stroke-width="0.7" fill="none"/>
<text x="304.2" y="214.8" font-size="8.2" text-anchor="middle" stroke="#1c1c1c" stroke-width="0.2">ns</text>
<path d="M335.9 234.1V200.4H353.7V203.9" stroke="#111" stroke-width="0.7" fill="none"/>
<text x="344.8" y="197.6" font-size="8.2" text-anchor="middle" stroke="#1c1c1c" stroke-width="0.2">0.0075</text>
<text x="298.05" y="298.7" font-size="8.7" text-anchor="end" stroke="#1c1c1c" stroke-width="0.2" transform="rotate(-45 298.05 298.7)">Neurotypical</text>
<text x="315.45" y="298.7" font-size="8.7" text-anchor="end" stroke="#1c1c1c" stroke-width="0.2" transform="rotate(-45 315.45 298.7)">MPSIIIA</text>
<text x="338.25" y="298.7" font-size="8.7" text-anchor="end" stroke="#1c1c1c" stroke-width="0.2" transform="rotate(-45 338.25 298.7)">Neurotypical</text>
<text x="355.35" y="298.7" font-size="8.7" text-anchor="end" stroke="#1c1c1c" stroke-width="0.2" transform="rotate(-45 355.35 298.7)">MPSIIIA</text>
<text x="302.3" y="343.2" font-size="7.2" text-anchor="middle" font-style="italic" fill="#9a9a9a" stroke="#9a9a9a" stroke-width="0.18">30-50 days</text>
<text x="345" y="343.2" font-size="7.2" text-anchor="middle" font-style="italic" fill="#9a9a9a" stroke="#9a9a9a" stroke-width="0.18">55-70 days</text>
<text x="256" y="238.7" font-size="7.9" text-anchor="middle" stroke="#1c1c1c" stroke-width="0.2" textLength="88" lengthAdjust="spacingAndGlyphs" transform="rotate(-90 256 238.7)">Number of active neurons</text>
<text x="263.3" y="234.1" font-size="7.9" text-anchor="middle" stroke="#1c1c1c" stroke-width="0.2" textLength="30.4" lengthAdjust="spacingAndGlyphs" transform="rotate(-90 263.3 234.1)">per well</text>
<line x1="437.5" y1="226.6" x2="437.5" y2="288.9" stroke="#111" stroke-width="0.95"/>
<line x1="437.5" y1="205.1" x2="437.5" y2="217.4" stroke="#111" stroke-width="0.95"/>
<path d="M434.9 288.5h2.6M435.9 282.35h1.6M434.9 276.2h2.6M435.9 270.05h1.6M434.9 263.9h2.6M435.9 257.75h1.6M434.9 251.6h2.6M435.9 245.45h1.6M434.9 239.3h2.6M435.9 233.15h1.6M434.9 227h2.6M434.9 217.2h2.6M434.9 205.5h2.6M435.9 211.3h1.6" stroke="#111" stroke-width="0.7" fill="none"/>
<text x="433.4" y="291" font-size="7.9" text-anchor="end" stroke="#1c1c1c" stroke-width="0.2">0</text>
<text x="433.4" y="278.7" font-size="7.9" text-anchor="end" stroke="#1c1c1c" stroke-width="0.2">2</text>
<text x="433.4" y="266.4" font-size="7.9" text-anchor="end" stroke="#1c1c1c" stroke-width="0.2">4</text>
<text x="433.4" y="254.1" font-size="7.9" text-anchor="end" stroke="#1c1c1c" stroke-width="0.2">6</text>
<text x="433.4" y="241.8" font-size="7.9" text-anchor="end" stroke="#1c1c1c" stroke-width="0.2">8</text>
<text x="433.4" y="229.5" font-size="7.9" text-anchor="end" stroke="#1c1c1c" stroke-width="0.2">10</text>
<text x="433.4" y="219.4" font-size="7.9" text-anchor="end" stroke="#1c1c1c" stroke-width="0.2">15</text>
<text x="433.4" y="208" font-size="7.9" text-anchor="end" stroke="#1c1c1c" stroke-width="0.2">16</text>
<line x1="434.9" y1="288.5" x2="516.5" y2="288.5" stroke="#111" stroke-width="0.95"/>
<rect x="441" y="279.1" width="15.6" height="9.4" fill="#000"/>
<line x1="448.8" y1="288.5" x2="448.8" y2="291.6" stroke="#111" stroke-width="0.85"/>
<rect x="458.65" y="270.65" width="14.5" height="17.85" fill="#ff2a00" stroke="#111" stroke-width="0.7"/>
<line x1="465.9" y1="288.5" x2="465.9" y2="291.6" stroke="#111" stroke-width="0.85"/>
<rect x="479.9" y="263.2" width="16" height="25.3" fill="#000"/>
<line x1="487.9" y1="288.5" x2="487.9" y2="291.6" stroke="#111" stroke-width="0.85"/>
<rect x="497.75" y="244.55" width="14.6" height="43.95" fill="#ff2a00" stroke="#111" stroke-width="0.7"/>
<line x1="505.05" y1="288.5" x2="505.05" y2="291.6" stroke="#111" stroke-width="0.85"/>
<line x1="448.7" y1="277" x2="448.7" y2="279.1" stroke="#000" stroke-width="0.7"/>
<line x1="444.8" y1="277" x2="452.6" y2="277" stroke="#000" stroke-width="0.75"/>
<line x1="465.9" y1="267.3" x2="465.9" y2="270.3" stroke="#999" stroke-width="0.7"/>
<line x1="462" y1="267.3" x2="469.8" y2="267.3" stroke="#999" stroke-width="0.75"/>
<line x1="487.55" y1="259.4" x2="487.55" y2="263.2" stroke="#000" stroke-width="0.7"/>
<line x1="483.65" y1="259.4" x2="491.45" y2="259.4" stroke="#000" stroke-width="0.75"/>
<line x1="504.8" y1="237.2" x2="504.8" y2="244.2" stroke="#000" stroke-width="0.7"/>
<line x1="500.9" y1="237.2" x2="508.7" y2="237.2" stroke="#000" stroke-width="0.75"/>
<circle cx="448.3" cy="268" r="1.45" fill="#fff" stroke="#000" stroke-width="0.65"/>
<circle cx="446.2" cy="272.8" r="1.45" fill="#fff" stroke="#000" stroke-width="0.65"/>
<circle cx="446.2" cy="274.5" r="1.45" fill="#fff" stroke="#000" stroke-width="0.65"/>
<circle cx="450.9" cy="275.4" r="1.45" fill="#fff" stroke="#000" stroke-width="0.65"/>
<circle cx="446.4" cy="277" r="1.45" fill="#fff" stroke="#000" stroke-width="0.65"/>
<circle cx="442.2" cy="281.2" r="1.45" fill="#fff" stroke="#000" stroke-width="0.65"/>
<circle cx="442.2" cy="284" r="1.45" fill="#fff" stroke="#000" stroke-width="0.65"/>
<circle cx="446.4" cy="282.1" r="1.45" fill="#fff" stroke="#000" stroke-width="0.65"/>
<circle cx="450.9" cy="280.7" r="1.45" fill="#fff" stroke="#000" stroke-width="0.65"/>
<circle cx="450.9" cy="284.4" r="1.45" fill="#fff" stroke="#000" stroke-width="0.65"/>
<circle cx="454.8" cy="284" r="1.45" fill="#fff" stroke="#000" stroke-width="0.65"/>
<circle cx="465.4" cy="249.3" r="1.45" fill="#fff" stroke="#000" stroke-width="0.65"/>
<circle cx="468.2" cy="263.1" r="1.45" fill="#fff" stroke="#000" stroke-width="0.65"/>
<circle cx="463.6" cy="265.4" r="1.45" fill="#fff" stroke="#000" stroke-width="0.65"/>
<circle cx="463.6" cy="269.6" r="1.45" fill="#fff" stroke="#000" stroke-width="0.65"/>
<circle cx="459.9" cy="271.7" r="1.45" fill="#fff" stroke="#000" stroke-width="0.65"/>
<circle cx="463.6" cy="273.8" r="1.45" fill="#fff" stroke="#000" stroke-width="0.65"/>
<circle cx="468.2" cy="272.4" r="1.45" fill="#fff" stroke="#000" stroke-width="0.65"/>
<circle cx="471.9" cy="272.8" r="1.45" fill="#fff" stroke="#000" stroke-width="0.65"/>
<circle cx="461.2" cy="279.8" r="1.45" fill="#fff" stroke="#000" stroke-width="0.65"/>
<circle cx="465.9" cy="277.5" r="1.45" fill="#fff" stroke="#000" stroke-width="0.65"/>
<circle cx="470" cy="279.5" r="1.45" fill="#fff" stroke="#000" stroke-width="0.65"/>
<circle cx="487.6" cy="238.1" r="1.45" fill="#fff" stroke="#000" stroke-width="0.65"/>
<circle cx="487.6" cy="251.5" r="1.45" fill="#fff" stroke="#000" stroke-width="0.65"/>
<circle cx="487.6" cy="258.5" r="1.45" fill="#fff" stroke="#000" stroke-width="0.65"/>
<circle cx="481.2" cy="264" r="1.45" fill="#fff" stroke="#000" stroke-width="0.65"/>
<circle cx="487.6" cy="266.6" r="1.45" fill="#fff" stroke="#000" stroke-width="0.65"/>
<circle cx="493.9" cy="264.9" r="1.45" fill="#fff" stroke="#000" stroke-width="0.65"/>
<circle cx="481.2" cy="267.5" r="1.45" fill="#fff" stroke="#000" stroke-width="0.65"/>
<circle cx="493.9" cy="268.1" r="1.45" fill="#fff" stroke="#000" stroke-width="0.65"/>
<circle cx="504.9" cy="211.9" r="1.45" fill="#fff" stroke="#000" stroke-width="0.65"/>
<circle cx="502.2" cy="227.5" r="1.45" fill="#fff" stroke="#000" stroke-width="0.65"/>
<circle cx="507.6" cy="227.5" r="1.45" fill="#fff" stroke="#000" stroke-width="0.65"/>
<circle cx="504.8" cy="234.9" r="1.45" fill="#fff" stroke="#000" stroke-width="0.65"/>
<circle cx="504.8" cy="246.7" r="1.45" fill="#fff" stroke="#000" stroke-width="0.65"/>
<circle cx="502" cy="249.6" r="1.45" fill="#fff" stroke="#000" stroke-width="0.65"/>
<circle cx="507.6" cy="250.9" r="1.45" fill="#fff" stroke="#000" stroke-width="0.65"/>
<circle cx="502.2" cy="261.1" r="1.45" fill="#fff" stroke="#000" stroke-width="0.65"/>
<circle cx="507.6" cy="259.4" r="1.45" fill="#fff" stroke="#000" stroke-width="0.65"/>
<circle cx="507.6" cy="263" r="1.45" fill="#fff" stroke="#000" stroke-width="0.65"/>
<circle cx="504.8" cy="265.8" r="1.45" fill="#fff" stroke="#000" stroke-width="0.65"/>
<path d="M447.8 244.2V241.3H466.3V244.2" stroke="#111" stroke-width="0.7" fill="none"/>
<text x="457" y="238.6" font-size="8.2" text-anchor="middle" stroke="#1c1c1c" stroke-width="0.2">ns</text>
<path d="M487.5 236.8V203.9H504.9V207.4" stroke="#111" stroke-width="0.7" fill="none"/>
<text x="496.7" y="200.3" font-size="8.2" text-anchor="middle" stroke="#1c1c1c" stroke-width="0.2">0.0042</text>
<text x="451.1" y="298.7" font-size="8.7" text-anchor="end" stroke="#1c1c1c" stroke-width="0.2" transform="rotate(-45 451.1 298.7)">Neurotypical</text>
<text x="468.2" y="298.7" font-size="8.7" text-anchor="end" stroke="#1c1c1c" stroke-width="0.2" transform="rotate(-45 468.2 298.7)">MPSIIIA</text>
<text x="490.2" y="298.7" font-size="8.7" text-anchor="end" stroke="#1c1c1c" stroke-width="0.2" transform="rotate(-45 490.2 298.7)">Neurotypical</text>
<text x="507.35" y="298.7" font-size="8.7" text-anchor="end" stroke="#1c1c1c" stroke-width="0.2" transform="rotate(-45 507.35 298.7)">MPSIIIA</text>
<text x="456.3" y="343.2" font-size="7.2" text-anchor="middle" font-style="italic" fill="#9a9a9a" stroke="#9a9a9a" stroke-width="0.18">30-50 days</text>
<text x="498" y="343.2" font-size="7.2" text-anchor="middle" font-style="italic" fill="#9a9a9a" stroke="#9a9a9a" stroke-width="0.18">55-70 days</text>
<text x="418.9" y="240.8" font-size="7.7" text-anchor="middle" stroke="#1c1c1c" stroke-width="0.2" textLength="103" lengthAdjust="spacingAndGlyphs" transform="rotate(-90 418.9 240.8)">Number of active bursting cells</text>
<line x1="595" y1="218.2" x2="595" y2="287.8" stroke="#111" stroke-width="0.95"/>
<line x1="595" y1="202.2" x2="595" y2="214.2" stroke="#111" stroke-width="0.95"/>
<path d="M592.4 287.4h2.6M593.4 278.75h1.6M592.4 270.1h2.6M593.4 261.45h1.6M592.4 252.8h2.6M593.4 244.15h1.6M592.4 235.5h2.6M593.4 226.85h1.6M592.4 218.2h2.6M592.4 208.3h2.6" stroke="#111" stroke-width="0.7" fill="none"/>
<text x="590.9" y="289.9" font-size="8.3" text-anchor="end" stroke="#1c1c1c" stroke-width="0.2">0.00</text>
<text x="590.9" y="272.6" font-size="8.3" text-anchor="end" stroke="#1c1c1c" stroke-width="0.2">0.02</text>
<text x="590.9" y="255.3" font-size="8.3" text-anchor="end" stroke="#1c1c1c" stroke-width="0.2">0.04</text>
<text x="590.9" y="238" font-size="8.3" text-anchor="end" stroke="#1c1c1c" stroke-width="0.2">0.06</text>
<text x="590.9" y="220.7" font-size="8.3" text-anchor="end" stroke="#1c1c1c" stroke-width="0.2">0.08</text>
<text x="590.9" y="210.8" font-size="8.3" text-anchor="end" stroke="#1c1c1c" stroke-width="0.2">0.12</text>
<line x1="592.4" y1="287.4" x2="675.5" y2="287.4" stroke="#111" stroke-width="0.95"/>
<rect x="598.2" y="279.1" width="15.7" height="8.3" fill="#000"/>
<line x1="606.05" y1="287.4" x2="606.05" y2="290.5" stroke="#111" stroke-width="0.85"/>
<rect x="616.05" y="277.55" width="15" height="9.85" fill="#ff2a00" stroke="#111" stroke-width="0.7"/>
<line x1="623.55" y1="287.4" x2="623.55" y2="290.5" stroke="#111" stroke-width="0.85"/>
<rect x="638.3" y="268.1" width="15.7" height="19.3" fill="#000"/>
<line x1="646.15" y1="287.4" x2="646.15" y2="290.5" stroke="#111" stroke-width="0.85"/>
<rect x="656.35" y="249.65" width="15" height="37.75" fill="#ff2a00" stroke="#111" stroke-width="0.7"/>
<line x1="663.85" y1="287.4" x2="663.85" y2="290.5" stroke="#111" stroke-width="0.85"/>
<line x1="646.35" y1="262.3" x2="646.35" y2="268.1" stroke="#999" stroke-width="0.7"/>
<line x1="642.45" y1="262.3" x2="650.25" y2="262.3" stroke="#999" stroke-width="0.75"/>
<line x1="664.2" y1="241.5" x2="664.2" y2="249.3" stroke="#000" stroke-width="0.7"/>
<line x1="660.3" y1="241.5" x2="668.1" y2="241.5" stroke="#000" stroke-width="0.75"/>
<line x1="605.9" y1="276.2" x2="605.9" y2="279.1" stroke="#999" stroke-width="0.7"/>
<line x1="602" y1="276.2" x2="609.8" y2="276.2" stroke="#999" stroke-width="0.75"/>
<line x1="623.5" y1="274.5" x2="623.5" y2="277.2" stroke="#999" stroke-width="0.7"/>
<line x1="619.6" y1="274.5" x2="627.4" y2="274.5" stroke="#999" stroke-width="0.75"/>
<circle cx="605.8" cy="271.3" r="1.45" fill="#fff" stroke="#000" stroke-width="0.65"/>
<circle cx="608.8" cy="275.2" r="1.45" fill="#fff" stroke="#000" stroke-width="0.65"/>
<circle cx="602.9" cy="277.2" r="1.45" fill="#fff" stroke="#000" stroke-width="0.65"/>
<circle cx="602.9" cy="285" r="1.45" fill="#fff" stroke="#000" stroke-width="0.65"/>
<circle cx="608.8" cy="285" r="1.45" fill="#fff" stroke="#000" stroke-width="0.65"/>
<circle cx="623.4" cy="259.4" r="1.45" fill="#fff" stroke="#000" stroke-width="0.65"/>
<circle cx="621.4" cy="271.3" r="1.45" fill="#fff" stroke="#000" stroke-width="0.65"/>
<circle cx="630" cy="273.7" r="1.45" fill="#fff" stroke="#000" stroke-width="0.65"/>
<circle cx="621.4" cy="276.7" r="1.45" fill="#fff" stroke="#000" stroke-width="0.65"/>
<circle cx="625.5" cy="276.2" r="1.45" fill="#fff" stroke="#000" stroke-width="0.65"/>
<circle cx="616.9" cy="279.6" r="1.45" fill="#fff" stroke="#000" stroke-width="0.65"/>
<circle cx="621.4" cy="280.6" r="1.45" fill="#fff" stroke="#000" stroke-width="0.65"/>
<circle cx="625.5" cy="279.6" r="1.45" fill="#fff" stroke="#000" stroke-width="0.65"/>
<circle cx="630" cy="281.1" r="1.45" fill="#fff" stroke="#000" stroke-width="0.65"/>
<circle cx="616.9" cy="282.8" r="1.45" fill="#fff" stroke="#000" stroke-width="0.65"/>
<circle cx="625.5" cy="282.4" r="1.45" fill="#fff" stroke="#000" stroke-width="0.65"/>
<circle cx="645.4" cy="225.9" r="1.45" fill="#fff" stroke="#000" stroke-width="0.65"/>
<circle cx="646.2" cy="246.6" r="1.45" fill="#fff" stroke="#000" stroke-width="0.65"/>
<circle cx="639.1" cy="269.6" r="1.45" fill="#fff" stroke="#000" stroke-width="0.65"/>
<circle cx="639.1" cy="273.6" r="1.45" fill="#fff" stroke="#000" stroke-width="0.65"/>
<circle cx="646.2" cy="272.3" r="1.45" fill="#fff" stroke="#000" stroke-width="0.65"/>
<circle cx="646.2" cy="275.9" r="1.45" fill="#fff" stroke="#000" stroke-width="0.65"/>
<circle cx="652.9" cy="273.9" r="1.45" fill="#fff" stroke="#000" stroke-width="0.65"/>
<circle cx="652.9" cy="278.6" r="1.45" fill="#fff" stroke="#000" stroke-width="0.65"/>
<circle cx="646.2" cy="280.1" r="1.45" fill="#fff" stroke="#000" stroke-width="0.65"/>
<circle cx="646.2" cy="284.8" r="1.45" fill="#fff" stroke="#000" stroke-width="0.65"/>
<circle cx="663.1" cy="207.7" r="1.45" fill="#fff" stroke="#000" stroke-width="0.65"/>
<circle cx="663.9" cy="236.8" r="1.45" fill="#fff" stroke="#000" stroke-width="0.65"/>
<circle cx="660.3" cy="245.4" r="1.45" fill="#fff" stroke="#000" stroke-width="0.65"/>
<circle cx="667.3" cy="245.4" r="1.45" fill="#fff" stroke="#000" stroke-width="0.65"/>
<circle cx="663.9" cy="251.2" r="1.45" fill="#fff" stroke="#000" stroke-width="0.65"/>
<circle cx="660.3" cy="256.7" r="1.45" fill="#fff" stroke="#000" stroke-width="0.65"/>
<circle cx="667.3" cy="256.3" r="1.45" fill="#fff" stroke="#000" stroke-width="0.65"/>
<circle cx="657.1" cy="265.7" r="1.45" fill="#fff" stroke="#000" stroke-width="0.65"/>
<circle cx="663.9" cy="265" r="1.45" fill="#fff" stroke="#000" stroke-width="0.65"/>
<circle cx="670.4" cy="262.9" r="1.45" fill="#fff" stroke="#000" stroke-width="0.65"/>
<circle cx="670.4" cy="266" r="1.45" fill="#fff" stroke="#000" stroke-width="0.65"/>
<path d="M604.3 257.7V255H623.2V257.7" stroke="#111" stroke-width="0.7" fill="none"/>
<text x="613.9" y="251.3" font-size="8.2" text-anchor="middle" stroke="#1c1c1c" stroke-width="0.2">ns</text>
<path d="M645.5 222.3V202H663.3V204.3" stroke="#111" stroke-width="0.7" fill="none"/>
<text x="654.1" y="198.6" font-size="8.2" text-anchor="middle" stroke="#1c1c1c" stroke-width="0.2">0.0224</text>
<text x="608.35" y="297.6" font-size="8.7" text-anchor="end" stroke="#1c1c1c" stroke-width="0.2" transform="rotate(-45 608.35 297.6)">Neurotypical</text>
<text x="625.85" y="297.6" font-size="8.7" text-anchor="end" stroke="#1c1c1c" stroke-width="0.2" transform="rotate(-45 625.85 297.6)">MPSIIIA</text>
<text x="648.45" y="297.6" font-size="8.7" text-anchor="end" stroke="#1c1c1c" stroke-width="0.2" transform="rotate(-45 648.45 297.6)">Neurotypical</text>
<text x="666.15" y="297.6" font-size="8.7" text-anchor="end" stroke="#1c1c1c" stroke-width="0.2" transform="rotate(-45 666.15 297.6)">MPSIIIA</text>
<text x="613.5" y="343.2" font-size="7.2" text-anchor="middle" font-style="italic" fill="#9a9a9a" stroke="#9a9a9a" stroke-width="0.18">30-50 days</text>
<text x="656" y="343.2" font-size="7.2" text-anchor="middle" font-style="italic" fill="#9a9a9a" stroke="#9a9a9a" stroke-width="0.18">55-70 days</text>
<text x="569.8" y="238.4" font-size="7.7" text-anchor="middle" stroke="#1c1c1c" stroke-width="0.2" textLength="101.8" lengthAdjust="spacingAndGlyphs" transform="rotate(-90 569.8 238.4)">Network event frequency (Hz)</text>
<line x1="592.8" y1="214.1" x2="597.2" y2="214.1" stroke="#111" stroke-width="0.9"/>
<line x1="592.8" y1="218.2" x2="597.2" y2="218.2" stroke="#111" stroke-width="0.9"/>
<line x1="593.6" y1="202.2" x2="596.4" y2="202.2" stroke="#111" stroke-width="0.9"/>
<line x1="435.4" y1="217.4" x2="439.8" y2="217.4" stroke="#111" stroke-width="0.8"/>
<line x1="435.4" y1="226.5" x2="439.8" y2="226.5" stroke="#111" stroke-width="0.8"/>
<text x="685.6" y="97.7" font-size="8.1" text-anchor="middle" font-style="italic" transform="rotate(-90 685.3 97.7)"><tspan>n</tspan> = lines</text>
<text x="685.6" y="270" font-size="8.1" text-anchor="middle" font-style="italic" transform="rotate(-90 685.3 270)"><tspan>n</tspan> = lines</text>
</g>
</svg>
</body></html>
